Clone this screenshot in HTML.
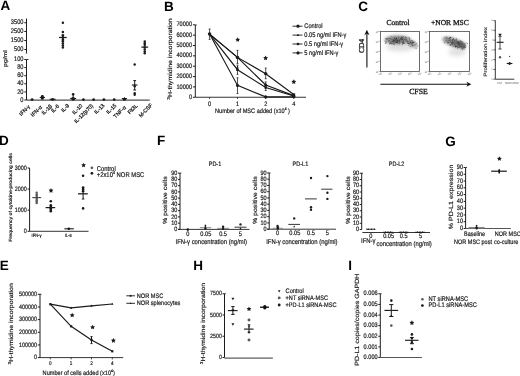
<!DOCTYPE html>
<html><head><meta charset="utf-8"><title>Figure</title>
<style>html,body{margin:0;padding:0;background:#fff;width:520px;height:376px;overflow:hidden}svg{display:block;transform:translateZ(0);will-change:transform;text-rendering:geometricPrecision}</style>
</head><body>
<svg width="520" height="376" viewBox="0 0 520 376" font-family='"Liberation Sans", sans-serif' fill="#1a1a1a">
<defs><filter id="gb" x="0" y="0" width="100%" height="100%" filterUnits="userSpaceOnUse"><feGaussianBlur stdDeviation="0.35"/></filter></defs><g filter="url(#gb)"><rect width="520" height="376" fill="#fff"/><text x="0.6" y="10.3" font-size="13.5" font-weight="bold" fill="#000">A</text>
<line x1="26.5" y1="18.5" x2="26.5" y2="53" stroke="#1e1e1e" stroke-width="1"/>
<line x1="24.3" y1="22.75" x2="26.5" y2="22.75" stroke="#1e1e1e" stroke-width="1"/>
<text font-size="5.7" text-anchor="end" stroke="#1a1a1a" stroke-width="0.17" transform="translate(23.5 24.4) scale(1 1.17)">3500</text>
<line x1="24.3" y1="31.5" x2="26.5" y2="31.5" stroke="#1e1e1e" stroke-width="1"/>
<text font-size="5.7" text-anchor="end" stroke="#1a1a1a" stroke-width="0.17" transform="translate(23.5 33.15) scale(1 1.17)">2500</text>
<line x1="24.3" y1="40.5" x2="26.5" y2="40.5" stroke="#1e1e1e" stroke-width="1"/>
<text font-size="5.7" text-anchor="end" stroke="#1a1a1a" stroke-width="0.17" transform="translate(23.5 42.15) scale(1 1.17)">1500</text>
<line x1="24.3" y1="49.5" x2="26.5" y2="49.5" stroke="#1e1e1e" stroke-width="1"/>
<text font-size="5.7" text-anchor="end" stroke="#1a1a1a" stroke-width="0.17" transform="translate(23.5 51.15) scale(1 1.17)">500</text>
<polygon points="25.6,53.6 27.4,53.6 26.5,51.6" fill="#333"/>
<line x1="26.5" y1="59.5" x2="26.5" y2="100" stroke="#1e1e1e" stroke-width="1"/>
<line x1="24.3" y1="59.5" x2="26.5" y2="59.5" stroke="#1e1e1e" stroke-width="1"/>
<text font-size="5.7" text-anchor="end" stroke="#1a1a1a" stroke-width="0.17" transform="translate(23.5 61.15) scale(1 1.17)">100</text>
<line x1="24.3" y1="67.6" x2="26.5" y2="67.6" stroke="#1e1e1e" stroke-width="1"/>
<text font-size="5.7" text-anchor="end" stroke="#1a1a1a" stroke-width="0.17" transform="translate(23.5 69.25) scale(1 1.17)">80</text>
<line x1="24.3" y1="75.7" x2="26.5" y2="75.7" stroke="#1e1e1e" stroke-width="1"/>
<text font-size="5.7" text-anchor="end" stroke="#1a1a1a" stroke-width="0.17" transform="translate(23.5 77.35) scale(1 1.17)">60</text>
<line x1="24.3" y1="83.8" x2="26.5" y2="83.8" stroke="#1e1e1e" stroke-width="1"/>
<text font-size="5.7" text-anchor="end" stroke="#1a1a1a" stroke-width="0.17" transform="translate(23.5 85.45) scale(1 1.17)">40</text>
<line x1="24.3" y1="91.9" x2="26.5" y2="91.9" stroke="#1e1e1e" stroke-width="1"/>
<text font-size="5.7" text-anchor="end" stroke="#1a1a1a" stroke-width="0.17" transform="translate(23.5 93.55) scale(1 1.17)">20</text>
<line x1="24.3" y1="100" x2="26.5" y2="100" stroke="#1e1e1e" stroke-width="1"/>
<text font-size="5.7" text-anchor="end" stroke="#1a1a1a" stroke-width="0.17" transform="translate(23.5 101.65) scale(1 1.17)">0</text>
<line x1="26.5" y1="59.5" x2="28.5" y2="59.5" stroke="#1e1e1e" stroke-width="0.9"/>
<text font-size="5.44" text-anchor="middle" stroke="#1a1a1a" stroke-width="0.17" transform="translate(6.9 58.6) scale(1 1.25) rotate(-90)">pg/ml</text>
<line x1="26.5" y1="100.1" x2="149.75" y2="100.1" stroke="#222" stroke-width="1"/>
<text font-size="5.3" text-anchor="end" stroke="#1a1a1a" stroke-width="0.26" transform="translate(30.5 107) rotate(-45)">IFN-&#947;</text>
<text font-size="5.3" text-anchor="end" stroke="#1a1a1a" stroke-width="0.26" transform="translate(42.3 107.6) rotate(-45)">IFN-&#945;</text>
<text font-size="5.3" text-anchor="end" stroke="#1a1a1a" stroke-width="0.26" transform="translate(52.4 106.5) rotate(-45)">IL-1&#946;</text>
<text font-size="5.3" text-anchor="end" stroke="#1a1a1a" stroke-width="0.26" transform="translate(59.6 106.5) rotate(-45)">IL-6</text>
<text font-size="5.3" text-anchor="end" stroke="#1a1a1a" stroke-width="0.26" transform="translate(69.6 106) rotate(-45)">IL-9</text>
<text font-size="5.3" text-anchor="end" stroke="#1a1a1a" stroke-width="0.26" transform="translate(82.9 106.2) rotate(-45)">IL-10</text>
<text font-size="5.3" text-anchor="end" stroke="#1a1a1a" stroke-width="0.26" transform="translate(93.6 106.2) rotate(-45)">IL-12(p70)</text>
<text font-size="5.3" text-anchor="end" stroke="#1a1a1a" stroke-width="0.26" transform="translate(104.8 105.8) rotate(-45)">IL-13</text>
<text font-size="5.3" text-anchor="end" stroke="#1a1a1a" stroke-width="0.26" transform="translate(116.8 105.8) rotate(-45)">IL-15</text>
<text font-size="5.3" text-anchor="end" stroke="#1a1a1a" stroke-width="0.26" transform="translate(126.3 107.8) rotate(-45)">TNF-&#945;</text>
<text font-size="5.3" text-anchor="end" stroke="#1a1a1a" stroke-width="0.26" transform="translate(138 106.2) rotate(-45)">Flt3L</text>
<text font-size="5.3" text-anchor="end" stroke="#1a1a1a" stroke-width="0.26" transform="translate(152.8 105.8) rotate(-45)">M-CSF</text>
<circle cx="32.1" cy="99.6" r="1.42" fill="#1a1a1a"/>
<line x1="42.36" y1="95.2" x2="42.36" y2="99.4" stroke="#1a1a1a" stroke-width="1"/>
<line x1="39.76" y1="97.5" x2="44.96" y2="97.5" stroke="#1a1a1a" stroke-width="1.12"/>
<circle cx="42.36" cy="96.3" r="1.42" fill="#1a1a1a"/>
<circle cx="42.36" cy="98.4" r="1.42" fill="#1a1a1a"/>
<circle cx="52.62" cy="99.4" r="1.42" fill="#1a1a1a"/>
<line x1="49.62" y1="99.3" x2="55.62" y2="99.3" stroke="#1a1a1a" stroke-width="1.12"/>
<circle cx="62.88" cy="22.75" r="1.24" fill="#1a1a1a"/>
<circle cx="62.88" cy="31.9" r="1.24" fill="#1a1a1a"/>
<circle cx="62.88" cy="35.5" r="1.24" fill="#1a1a1a"/>
<circle cx="62.88" cy="37.5" r="1.24" fill="#1a1a1a"/>
<circle cx="62.88" cy="39.5" r="1.24" fill="#1a1a1a"/>
<circle cx="62.88" cy="41.5" r="1.24" fill="#1a1a1a"/>
<circle cx="62.88" cy="43.5" r="1.24" fill="#1a1a1a"/>
<circle cx="62.88" cy="45.5" r="1.24" fill="#1a1a1a"/>
<circle cx="62.88" cy="47.5" r="1.24" fill="#1a1a1a"/>
<line x1="59.08" y1="37.5" x2="66.68" y2="37.5" stroke="#1a1a1a" stroke-width="1.25"/>
<line x1="62.88" y1="35" x2="62.88" y2="41" stroke="#1a1a1a" stroke-width="1"/>
<line x1="61.58" y1="35" x2="64.18" y2="35" stroke="#1a1a1a" stroke-width="1"/>
<line x1="61.58" y1="41" x2="64.18" y2="41" stroke="#1a1a1a" stroke-width="1"/>
<circle cx="73.14" cy="94.3" r="1.3" fill="#1a1a1a"/>
<line x1="73.14" y1="95" x2="73.14" y2="99.5" stroke="#1a1a1a" stroke-width="1"/>
<circle cx="73.14" cy="98.8" r="1.89" fill="#1a1a1a"/>
<line x1="70.14" y1="98.5" x2="76.14" y2="98.5" stroke="#1a1a1a" stroke-width="1.12"/>
<circle cx="83.4" cy="99.6" r="1.36" fill="#1a1a1a"/>
<circle cx="93.66" cy="99.6" r="1.36" fill="#1a1a1a"/>
<circle cx="103.92" cy="99.6" r="1.36" fill="#1a1a1a"/>
<circle cx="114.18" cy="99.6" r="1.36" fill="#1a1a1a"/>
<circle cx="124.44" cy="99.3" r="1.53" fill="#1a1a1a"/>
<line x1="124.44" y1="97.2" x2="124.44" y2="99.6" stroke="#1a1a1a" stroke-width="1"/>
<line x1="121.84" y1="98.6" x2="127.04" y2="98.6" stroke="#1a1a1a" stroke-width="1.12"/>
<circle cx="134.7" cy="64.4" r="1.24" fill="#1a1a1a"/>
<line x1="134.7" y1="80.6" x2="134.7" y2="90" stroke="#1a1a1a" stroke-width="1"/>
<line x1="133.3" y1="80.6" x2="136.1" y2="80.6" stroke="#1a1a1a" stroke-width="1"/>
<line x1="133.3" y1="90" x2="136.1" y2="90" stroke="#1a1a1a" stroke-width="1"/>
<line x1="131.9" y1="85" x2="137.5" y2="85" stroke="#1a1a1a" stroke-width="1.12"/>
<circle cx="134.7" cy="86.3" r="1.18" fill="#1a1a1a"/>
<circle cx="134.7" cy="93.2" r="1.18" fill="#1a1a1a"/>
<circle cx="134.7" cy="94.8" r="1.18" fill="#1a1a1a"/>
<circle cx="144.76" cy="41.5" r="1.24" fill="#1a1a1a"/>
<circle cx="144.76" cy="43.3" r="1.24" fill="#1a1a1a"/>
<circle cx="144.76" cy="45" r="1.24" fill="#1a1a1a"/>
<circle cx="144.76" cy="47.5" r="1.24" fill="#1a1a1a"/>
<circle cx="144.76" cy="49.5" r="1.24" fill="#1a1a1a"/>
<circle cx="144.76" cy="51.5" r="1.24" fill="#1a1a1a"/>
<circle cx="144.76" cy="53.3" r="1.24" fill="#1a1a1a"/>
<line x1="141.36" y1="47.1" x2="148.16" y2="47.1" stroke="#1a1a1a" stroke-width="1.25"/>
<text x="164" y="10.7" font-size="13.5" font-weight="bold" fill="#000">B</text>
<line x1="195.3" y1="25" x2="195.3" y2="97.25" stroke="#1e1e1e" stroke-width="1"/>
<line x1="192.9" y1="97.25" x2="195.3" y2="97.25" stroke="#1e1e1e" stroke-width="1"/>
<text font-size="5.6" text-anchor="end" stroke="#1a1a1a" stroke-width="0.17" transform="translate(192 98.87) scale(1 1.17)">0</text>
<line x1="192.9" y1="86.9" x2="195.3" y2="86.9" stroke="#1e1e1e" stroke-width="1"/>
<text font-size="5.6" text-anchor="end" stroke="#1a1a1a" stroke-width="0.17" transform="translate(192 88.52) scale(1 1.17)">10000</text>
<line x1="192.9" y1="76.55" x2="195.3" y2="76.55" stroke="#1e1e1e" stroke-width="1"/>
<text font-size="5.6" text-anchor="end" stroke="#1a1a1a" stroke-width="0.17" transform="translate(192 78.17) scale(1 1.17)">20000</text>
<line x1="192.9" y1="66.2" x2="195.3" y2="66.2" stroke="#1e1e1e" stroke-width="1"/>
<text font-size="5.6" text-anchor="end" stroke="#1a1a1a" stroke-width="0.17" transform="translate(192 67.82) scale(1 1.17)">30000</text>
<line x1="192.9" y1="55.85" x2="195.3" y2="55.85" stroke="#1e1e1e" stroke-width="1"/>
<text font-size="5.6" text-anchor="end" stroke="#1a1a1a" stroke-width="0.17" transform="translate(192 57.47) scale(1 1.17)">40000</text>
<line x1="192.9" y1="45.5" x2="195.3" y2="45.5" stroke="#1e1e1e" stroke-width="1"/>
<text font-size="5.6" text-anchor="end" stroke="#1a1a1a" stroke-width="0.17" transform="translate(192 47.12) scale(1 1.17)">50000</text>
<line x1="192.9" y1="35.15" x2="195.3" y2="35.15" stroke="#1e1e1e" stroke-width="1"/>
<text font-size="5.6" text-anchor="end" stroke="#1a1a1a" stroke-width="0.17" transform="translate(192 36.77) scale(1 1.17)">60000</text>
<line x1="192.9" y1="24.8" x2="195.3" y2="24.8" stroke="#1e1e1e" stroke-width="1"/>
<text font-size="5.6" text-anchor="end" stroke="#1a1a1a" stroke-width="0.17" transform="translate(192 26.42) scale(1 1.17)">70000</text>
<line x1="195.3" y1="25" x2="196.8" y2="25" stroke="#1e1e1e" stroke-width="0.9"/>
<line x1="195.3" y1="97.25" x2="306" y2="97.25" stroke="#1e1e1e" stroke-width="0.9"/>
<line x1="209.6" y1="97.25" x2="209.6" y2="99.05" stroke="#1e1e1e" stroke-width="0.8"/>
<text font-size="5.6" text-anchor="middle" stroke="#1a1a1a" stroke-width="0.17" transform="translate(209.6 105.55) scale(1 1.17)">0</text>
<line x1="237.5" y1="97.25" x2="237.5" y2="99.05" stroke="#1e1e1e" stroke-width="0.8"/>
<text font-size="5.6" text-anchor="middle" stroke="#1a1a1a" stroke-width="0.17" transform="translate(237.5 105.55) scale(1 1.17)">1</text>
<line x1="265.7" y1="97.25" x2="265.7" y2="99.05" stroke="#1e1e1e" stroke-width="0.8"/>
<text font-size="5.6" text-anchor="middle" stroke="#1a1a1a" stroke-width="0.17" transform="translate(265.7 105.55) scale(1 1.17)">2</text>
<line x1="293.75" y1="97.25" x2="293.75" y2="99.05" stroke="#1e1e1e" stroke-width="0.8"/>
<text font-size="5.6" text-anchor="middle" stroke="#1a1a1a" stroke-width="0.17" transform="translate(293.75 105.55) scale(1 1.17)">4</text>
<text font-size="5.6" text-anchor="middle" stroke="#1a1a1a" stroke-width="0.17" transform="translate(252.5 112.5) scale(1 1.17)">Number of MSC added (x10<tspan font-size="3.4" dy="-2">4</tspan><tspan dy="2"> )</tspan></text>
<text font-size="5.9" text-anchor="middle" stroke="#1a1a1a" stroke-width="0.17" transform="translate(172.4 59) scale(1 1.17) rotate(-90)"><tspan font-size="4.2" dy="-2">3</tspan><tspan dy="2">H-thymidine incorporation</tspan></text>
<polyline points="209.6,34.1 237.5,57.4 265.7,73.7 293.75,94.5" fill="none" stroke="#1a1a1a" stroke-width="1.15"/>
<polyline points="209.6,34.1 237.5,57.4 265.7,85 293.75,95.6" fill="none" stroke="#1a1a1a" stroke-width="1.15"/>
<polyline points="209.6,34.1 237.5,69.7 265.7,87.5 293.75,96" fill="none" stroke="#1a1a1a" stroke-width="1.15"/>
<polyline points="209.6,34.1 237.5,85.4 265.7,96.9 293.75,96.9" fill="none" stroke="#1a1a1a" stroke-width="1.15"/>
<line x1="209.6" y1="29" x2="209.6" y2="39.4" stroke="#1a1a1a" stroke-width="0.75"/>
<line x1="208.65" y1="29" x2="210.55" y2="29" stroke="#1a1a1a" stroke-width="0.75"/>
<line x1="208.65" y1="39.4" x2="210.55" y2="39.4" stroke="#1a1a1a" stroke-width="0.75"/>
<line x1="237.5" y1="50.4" x2="237.5" y2="63.6" stroke="#1a1a1a" stroke-width="0.75"/>
<line x1="236.55" y1="50.4" x2="238.45" y2="50.4" stroke="#1a1a1a" stroke-width="0.75"/>
<line x1="236.55" y1="63.6" x2="238.45" y2="63.6" stroke="#1a1a1a" stroke-width="0.75"/>
<line x1="237.5" y1="65.2" x2="237.5" y2="74.4" stroke="#1a1a1a" stroke-width="0.75"/>
<line x1="236.55" y1="65.2" x2="238.45" y2="65.2" stroke="#1a1a1a" stroke-width="0.75"/>
<line x1="236.55" y1="74.4" x2="238.45" y2="74.4" stroke="#1a1a1a" stroke-width="0.75"/>
<line x1="237.5" y1="77.8" x2="237.5" y2="93.5" stroke="#1a1a1a" stroke-width="0.75"/>
<line x1="236.55" y1="77.8" x2="238.45" y2="77.8" stroke="#1a1a1a" stroke-width="0.75"/>
<line x1="236.55" y1="93.5" x2="238.45" y2="93.5" stroke="#1a1a1a" stroke-width="0.75"/>
<line x1="265.7" y1="68.1" x2="265.7" y2="78.7" stroke="#1a1a1a" stroke-width="0.75"/>
<line x1="264.75" y1="68.1" x2="266.65" y2="68.1" stroke="#1a1a1a" stroke-width="0.75"/>
<line x1="264.75" y1="78.7" x2="266.65" y2="78.7" stroke="#1a1a1a" stroke-width="0.75"/>
<line x1="265.7" y1="81.9" x2="265.7" y2="90.5" stroke="#1a1a1a" stroke-width="0.75"/>
<line x1="264.75" y1="81.9" x2="266.65" y2="81.9" stroke="#1a1a1a" stroke-width="0.75"/>
<line x1="264.75" y1="90.5" x2="266.65" y2="90.5" stroke="#1a1a1a" stroke-width="0.75"/>
<circle cx="209.6" cy="34.1" r="1.77" fill="#1a1a1a"/>
<circle cx="237.5" cy="57.4" r="1.77" fill="#1a1a1a"/>
<rect x="236.2" y="68.4" width="2.6" height="2.6" fill="#1a1a1a"/>
<circle cx="237.5" cy="85.4" r="1.53" fill="#1a1a1a"/>
<polygon points="237.5,65.75 236.3,67.84 238.7,67.84" fill="#1a1a1a"/>
<circle cx="265.7" cy="73.7" r="1.65" fill="#1a1a1a"/>
<circle cx="265.7" cy="85" r="1.53" fill="#1a1a1a"/>
<rect x="264.5" y="86.3" width="2.4" height="2.4" fill="#1a1a1a"/>
<circle cx="265.7" cy="96.9" r="1.53" fill="#1a1a1a"/>
<rect x="292.35" y="93.4" width="2.8" height="2.8" fill="#1a1a1a"/>
<circle cx="293.75" cy="96.6" r="1.77" fill="#1a1a1a"/>
<polygon points="237.7,37.15 238.45,38.67 240.13,38.91 238.91,40.09 239.2,41.76 237.7,40.98 236.2,41.76 236.49,40.09 235.27,38.91 236.95,38.67" fill="#1a1a1a"/>
<polygon points="265.6,55.55 266.35,57.07 268.03,57.31 266.81,58.49 267.1,60.16 265.6,59.38 264.1,60.16 264.39,58.49 263.17,57.31 264.85,57.07" fill="#1a1a1a"/>
<polygon points="293.8,79.35 294.55,80.87 296.23,81.11 295.01,82.29 295.3,83.96 293.8,83.18 292.3,83.96 292.59,82.29 291.37,81.11 293.05,80.87" fill="#1a1a1a"/>
<line x1="292.5" y1="26.2" x2="302.5" y2="26.2" stroke="#1a1a1a" stroke-width="0.9"/>
<circle cx="298" cy="26.2" r="1.59" fill="#1a1a1a"/>
<text font-size="5.7" stroke="#1a1a1a" stroke-width="0.17" transform="translate(304.3 28.2) scale(1 1.17)">Control</text>
<line x1="292.5" y1="35.1" x2="302.5" y2="35.1" stroke="#1a1a1a" stroke-width="0.9"/>
<polygon points="298,33.74 296.7,36 299.3,36" fill="#1a1a1a"/>
<text font-size="5.7" stroke="#1a1a1a" stroke-width="0.17" transform="translate(304.3 37.1) scale(1 1.17)">0.05 ng/ml IFN-&#947;</text>
<line x1="292.5" y1="44" x2="302.5" y2="44" stroke="#1a1a1a" stroke-width="0.9"/>
<rect x="296.85" y="42.85" width="2.3" height="2.3" fill="#1a1a1a"/>
<text font-size="5.7" stroke="#1a1a1a" stroke-width="0.17" transform="translate(304.3 46) scale(1 1.17)">0.5 ng/ml IFN-&#947;</text>
<line x1="292.5" y1="52.9" x2="302.5" y2="52.9" stroke="#1a1a1a" stroke-width="0.9"/>
<circle cx="298" cy="52.9" r="1.59" fill="#1a1a1a"/>
<text font-size="5.7" stroke="#1a1a1a" stroke-width="0.17" transform="translate(304.3 54.9) scale(1 1.17)">5 ng/ml IFN-&#947;</text>
<text x="358.3" y="11.2" font-size="13.5" font-weight="bold" fill="#000">C</text>
<line x1="366.9" y1="33" x2="366.9" y2="67.5" stroke="#111" stroke-width="1.1"/>
<polygon points="366.9,29.8 364.3,35.3 366.9,33.6 369.5,35.3" fill="#111"/>
<text font-size="7.5" text-anchor="middle" font-family='"Liberation Serif", serif' stroke="#1a1a1a" stroke-width="0.32" transform="translate(363.9 46) rotate(-90)">CD4</text>
<text x="398" y="25.2" font-size="7.6" text-anchor="middle" font-family='"Liberation Serif", serif' stroke="#1a1a1a" stroke-width="0.32">Control</text>
<text x="449.9" y="25.2" font-size="7.5" text-anchor="middle" font-family='"Liberation Serif", serif' stroke="#1a1a1a" stroke-width="0.32">+NOR MSC</text>
<line x1="380.4" y1="84.2" x2="468.5" y2="84.2" stroke="#111" stroke-width="1.1"/>
<polygon points="471.3,84.2 466.4,81.7 467.8,84.2 466.4,86.7" fill="#111"/>
<text x="418.5" y="93.6" font-size="7.8" text-anchor="middle" font-family='"Liberation Serif", serif' stroke="#1a1a1a" stroke-width="0.32">CFSE</text>
<defs><filter id="bl" x="-50%" y="-50%" width="200%" height="200%"><feGaussianBlur stdDeviation="1.4"/></filter><filter id="bl2" x="-50%" y="-50%" width="200%" height="200%"><feGaussianBlur stdDeviation="2.2"/></filter></defs>
<g filter="url(#bl2)" opacity="0.45"><ellipse cx="400" cy="47" rx="14" ry="4.5" fill="#bbb"/></g>
<g filter="url(#bl)"><ellipse cx="397.5" cy="39.9" rx="13" ry="4.3" fill="#8a8a8a"/><ellipse cx="412" cy="43.6" rx="6.5" ry="3" fill="#a0a0a0" transform="rotate(30 412 43.6)"/></g>
<g filter="url(#bl2)" opacity="0.45"><ellipse cx="457" cy="52" rx="9" ry="4" fill="#bbb"/></g>
<g filter="url(#bl)"><ellipse cx="454" cy="42.6" rx="12.5" ry="4.3" fill="#909090" transform="rotate(20 454 42.6)"/><ellipse cx="460" cy="44.6" rx="6" ry="3.2" fill="#707070" transform="rotate(20 460 44.6)"/></g>
<rect x="380.5" y="31.5" width="39" height="40" fill="none" stroke="#4a4a4a" stroke-width="0.8"/>
<line x1="379.2" y1="31.5" x2="380.5" y2="31.5" stroke="#777" stroke-width="0.5"/>
<line x1="380.5" y1="71.5" x2="380.5" y2="72.8" stroke="#777" stroke-width="0.5"/>
<text x="379.3" y="33.1" font-size="2.6" fill="#666" text-anchor="end">10<tspan font-size="1.8" dy="-1">4</tspan></text>
<text x="380.5" y="75.1" font-size="2.6" fill="#666" text-anchor="middle">10<tspan font-size="1.8" dy="-1">0</tspan></text>
<line x1="379.2" y1="41.5" x2="380.5" y2="41.5" stroke="#777" stroke-width="0.5"/>
<line x1="390.25" y1="71.5" x2="390.25" y2="72.8" stroke="#777" stroke-width="0.5"/>
<text x="379.3" y="43.1" font-size="2.6" fill="#666" text-anchor="end">10<tspan font-size="1.8" dy="-1">3</tspan></text>
<text x="390.25" y="75.1" font-size="2.6" fill="#666" text-anchor="middle">10<tspan font-size="1.8" dy="-1">1</tspan></text>
<line x1="379.2" y1="51.5" x2="380.5" y2="51.5" stroke="#777" stroke-width="0.5"/>
<line x1="400" y1="71.5" x2="400" y2="72.8" stroke="#777" stroke-width="0.5"/>
<text x="379.3" y="53.1" font-size="2.6" fill="#666" text-anchor="end">10<tspan font-size="1.8" dy="-1">2</tspan></text>
<text x="400" y="75.1" font-size="2.6" fill="#666" text-anchor="middle">10<tspan font-size="1.8" dy="-1">2</tspan></text>
<line x1="379.2" y1="61.5" x2="380.5" y2="61.5" stroke="#777" stroke-width="0.5"/>
<line x1="409.75" y1="71.5" x2="409.75" y2="72.8" stroke="#777" stroke-width="0.5"/>
<text x="379.3" y="63.1" font-size="2.6" fill="#666" text-anchor="end">10<tspan font-size="1.8" dy="-1">1</tspan></text>
<text x="409.75" y="75.1" font-size="2.6" fill="#666" text-anchor="middle">10<tspan font-size="1.8" dy="-1">3</tspan></text>
<line x1="379.2" y1="71.5" x2="380.5" y2="71.5" stroke="#777" stroke-width="0.5"/>
<line x1="419.5" y1="71.5" x2="419.5" y2="72.8" stroke="#777" stroke-width="0.5"/>
<text x="379.3" y="73.1" font-size="2.6" fill="#666" text-anchor="end">10<tspan font-size="1.8" dy="-1">0</tspan></text>
<text x="419.5" y="75.1" font-size="2.6" fill="#666" text-anchor="middle">10<tspan font-size="1.8" dy="-1">4</tspan></text>
<rect x="400.43" y="38.59" width="0.8" height="0.8" fill="rgb(49,49,49)"/>
<rect x="395.88" y="37.91" width="0.8" height="0.8" fill="rgb(51,51,51)"/>
<rect x="399.08" y="39.09" width="0.8" height="0.8" fill="rgb(83,83,83)"/>
<rect x="392.82" y="37.47" width="0.8" height="0.8" fill="rgb(135,135,135)"/>
<rect x="400.87" y="39.35" width="0.8" height="0.8" fill="rgb(109,109,109)"/>
<rect x="396.1" y="39.96" width="0.8" height="0.8" fill="rgb(137,137,137)"/>
<rect x="401.32" y="38.74" width="0.8" height="0.8" fill="rgb(129,129,129)"/>
<rect x="395.61" y="39.34" width="0.8" height="0.8" fill="rgb(110,110,110)"/>
<rect x="391.29" y="39.23" width="0.8" height="0.8" fill="rgb(133,133,133)"/>
<rect x="401.56" y="40.11" width="0.8" height="0.8" fill="rgb(69,69,69)"/>
<rect x="390.78" y="36.06" width="0.8" height="0.8" fill="rgb(105,105,105)"/>
<rect x="402.4" y="38.88" width="0.8" height="0.8" fill="rgb(82,82,82)"/>
<rect x="397.68" y="39.78" width="0.8" height="0.8" fill="rgb(50,50,50)"/>
<rect x="402.73" y="40.35" width="0.8" height="0.8" fill="rgb(87,87,87)"/>
<rect x="396.06" y="37.77" width="0.8" height="0.8" fill="rgb(69,69,69)"/>
<rect x="401.58" y="39.41" width="0.8" height="0.8" fill="rgb(96,96,96)"/>
<rect x="402.33" y="41.03" width="0.8" height="0.8" fill="rgb(114,114,114)"/>
<rect x="397.93" y="37.68" width="0.8" height="0.8" fill="rgb(132,132,132)"/>
<rect x="402.47" y="42.56" width="0.8" height="0.8" fill="rgb(102,102,102)"/>
<rect x="394.01" y="40.65" width="0.8" height="0.8" fill="rgb(45,45,45)"/>
<rect x="408.63" y="37.16" width="0.8" height="0.8" fill="rgb(59,59,59)"/>
<rect x="390.16" y="43.13" width="0.8" height="0.8" fill="rgb(52,52,52)"/>
<rect x="394.89" y="35.95" width="0.8" height="0.8" fill="rgb(124,124,124)"/>
<rect x="402.77" y="41.63" width="0.8" height="0.8" fill="rgb(61,61,61)"/>
<rect x="399.94" y="38.43" width="0.8" height="0.8" fill="rgb(45,45,45)"/>
<rect x="391.9" y="43.05" width="0.8" height="0.8" fill="rgb(98,98,98)"/>
<rect x="393.33" y="39.16" width="0.8" height="0.8" fill="rgb(92,92,92)"/>
<rect x="401.53" y="37.03" width="0.8" height="0.8" fill="rgb(89,89,89)"/>
<rect x="397.47" y="42.69" width="0.8" height="0.8" fill="rgb(93,93,93)"/>
<rect x="399.01" y="39.17" width="0.8" height="0.8" fill="rgb(41,41,41)"/>
<rect x="395.8" y="41.78" width="0.8" height="0.8" fill="rgb(114,114,114)"/>
<rect x="398.44" y="39.65" width="0.8" height="0.8" fill="rgb(130,130,130)"/>
<rect x="407.99" y="43.34" width="0.8" height="0.8" fill="rgb(49,49,49)"/>
<rect x="395.12" y="38.5" width="0.8" height="0.8" fill="rgb(96,96,96)"/>
<rect x="404.97" y="36.91" width="0.8" height="0.8" fill="rgb(121,121,121)"/>
<rect x="391.89" y="40" width="0.8" height="0.8" fill="rgb(88,88,88)"/>
<rect x="402.87" y="40.26" width="0.8" height="0.8" fill="rgb(101,101,101)"/>
<rect x="402.7" y="43.05" width="0.8" height="0.8" fill="rgb(84,84,84)"/>
<rect x="396.15" y="38.03" width="0.8" height="0.8" fill="rgb(48,48,48)"/>
<rect x="402.1" y="39.2" width="0.8" height="0.8" fill="rgb(80,80,80)"/>
<rect x="400.89" y="38.29" width="0.8" height="0.8" fill="rgb(59,59,59)"/>
<rect x="395.78" y="38.62" width="0.8" height="0.8" fill="rgb(73,73,73)"/>
<rect x="388.15" y="41.11" width="0.8" height="0.8" fill="rgb(133,133,133)"/>
<rect x="397.56" y="40.66" width="0.8" height="0.8" fill="rgb(106,106,106)"/>
<rect x="398.47" y="36.39" width="0.8" height="0.8" fill="rgb(93,93,93)"/>
<rect x="398.28" y="38.1" width="0.8" height="0.8" fill="rgb(98,98,98)"/>
<rect x="391.77" y="39.13" width="0.8" height="0.8" fill="rgb(133,133,133)"/>
<rect x="394.65" y="39.55" width="0.8" height="0.8" fill="rgb(46,46,46)"/>
<rect x="402.01" y="43.8" width="0.8" height="0.8" fill="rgb(63,63,63)"/>
<rect x="403.5" y="38.79" width="0.8" height="0.8" fill="rgb(66,66,66)"/>
<rect x="403.36" y="42.39" width="0.8" height="0.8" fill="rgb(77,77,77)"/>
<rect x="398.59" y="43.6" width="0.8" height="0.8" fill="rgb(118,118,118)"/>
<rect x="396.51" y="41.74" width="0.8" height="0.8" fill="rgb(84,84,84)"/>
<rect x="394.82" y="40.28" width="0.8" height="0.8" fill="rgb(108,108,108)"/>
<rect x="393.39" y="40.77" width="0.8" height="0.8" fill="rgb(127,127,127)"/>
<rect x="408.81" y="38.38" width="0.8" height="0.8" fill="rgb(96,96,96)"/>
<rect x="392.99" y="37.69" width="0.8" height="0.8" fill="rgb(106,106,106)"/>
<rect x="389.17" y="40.24" width="0.8" height="0.8" fill="rgb(88,88,88)"/>
<rect x="398.65" y="41.34" width="0.8" height="0.8" fill="rgb(125,125,125)"/>
<rect x="399.39" y="40.35" width="0.8" height="0.8" fill="rgb(79,79,79)"/>
<rect x="386.24" y="41.65" width="0.8" height="0.8" fill="rgb(47,47,47)"/>
<rect x="402.07" y="39.87" width="0.8" height="0.8" fill="rgb(136,136,136)"/>
<rect x="397.03" y="38.01" width="0.8" height="0.8" fill="rgb(129,129,129)"/>
<rect x="393.58" y="39.48" width="0.8" height="0.8" fill="rgb(78,78,78)"/>
<rect x="396.56" y="39.47" width="0.8" height="0.8" fill="rgb(88,88,88)"/>
<rect x="396.4" y="37.14" width="0.8" height="0.8" fill="rgb(83,83,83)"/>
<rect x="398.51" y="39.61" width="0.8" height="0.8" fill="rgb(61,61,61)"/>
<rect x="401.22" y="38.84" width="0.8" height="0.8" fill="rgb(101,101,101)"/>
<rect x="395.63" y="39.56" width="0.8" height="0.8" fill="rgb(53,53,53)"/>
<rect x="388.88" y="41.32" width="0.8" height="0.8" fill="rgb(111,111,111)"/>
<rect x="389.48" y="38.38" width="0.8" height="0.8" fill="rgb(103,103,103)"/>
<rect x="393.54" y="43.91" width="0.8" height="0.8" fill="rgb(105,105,105)"/>
<rect x="390.43" y="38.09" width="0.8" height="0.8" fill="rgb(91,91,91)"/>
<rect x="398.39" y="41.08" width="0.8" height="0.8" fill="rgb(54,54,54)"/>
<rect x="393.78" y="41.61" width="0.8" height="0.8" fill="rgb(66,66,66)"/>
<rect x="401.85" y="37.19" width="0.8" height="0.8" fill="rgb(88,88,88)"/>
<rect x="396.65" y="39.98" width="0.8" height="0.8" fill="rgb(86,86,86)"/>
<rect x="392.39" y="41.2" width="0.8" height="0.8" fill="rgb(131,131,131)"/>
<rect x="402.77" y="42.68" width="0.8" height="0.8" fill="rgb(59,59,59)"/>
<rect x="397.7" y="41.82" width="0.8" height="0.8" fill="rgb(130,130,130)"/>
<rect x="396.8" y="41.57" width="0.8" height="0.8" fill="rgb(72,72,72)"/>
<rect x="399.14" y="39.08" width="0.8" height="0.8" fill="rgb(119,119,119)"/>
<rect x="396.85" y="39.59" width="0.8" height="0.8" fill="rgb(122,122,122)"/>
<rect x="384.64" y="40.74" width="0.8" height="0.8" fill="rgb(61,61,61)"/>
<rect x="391.81" y="43.32" width="0.8" height="0.8" fill="rgb(105,105,105)"/>
<rect x="393.66" y="40.37" width="0.8" height="0.8" fill="rgb(113,113,113)"/>
<rect x="393.54" y="44.1" width="0.8" height="0.8" fill="rgb(58,58,58)"/>
<rect x="410.41" y="39.71" width="0.8" height="0.8" fill="rgb(109,109,109)"/>
<rect x="393.49" y="40.34" width="0.8" height="0.8" fill="rgb(72,72,72)"/>
<rect x="388.07" y="40.74" width="0.8" height="0.8" fill="rgb(134,134,134)"/>
<rect x="385.63" y="38.33" width="0.8" height="0.8" fill="rgb(44,44,44)"/>
<rect x="394.18" y="42.05" width="0.8" height="0.8" fill="rgb(112,112,112)"/>
<rect x="397.73" y="37.3" width="0.8" height="0.8" fill="rgb(107,107,107)"/>
<rect x="397.32" y="41.93" width="0.8" height="0.8" fill="rgb(55,55,55)"/>
<rect x="401.33" y="38.88" width="0.8" height="0.8" fill="rgb(42,42,42)"/>
<rect x="394.2" y="39.15" width="0.8" height="0.8" fill="rgb(64,64,64)"/>
<rect x="386.49" y="38.79" width="0.8" height="0.8" fill="rgb(44,44,44)"/>
<rect x="390.79" y="41.44" width="0.8" height="0.8" fill="rgb(65,65,65)"/>
<rect x="393.07" y="41.69" width="0.8" height="0.8" fill="rgb(69,69,69)"/>
<rect x="392.7" y="42.44" width="0.8" height="0.8" fill="rgb(64,64,64)"/>
<rect x="393.18" y="43.32" width="0.8" height="0.8" fill="rgb(120,120,120)"/>
<rect x="389.23" y="43.46" width="0.8" height="0.8" fill="rgb(47,47,47)"/>
<rect x="398.92" y="43.23" width="0.8" height="0.8" fill="rgb(82,82,82)"/>
<rect x="396.94" y="40.14" width="0.8" height="0.8" fill="rgb(46,46,46)"/>
<rect x="391.85" y="41.3" width="0.8" height="0.8" fill="rgb(81,81,81)"/>
<rect x="391.1" y="41.59" width="0.8" height="0.8" fill="rgb(93,93,93)"/>
<rect x="399.52" y="40.2" width="0.8" height="0.8" fill="rgb(122,122,122)"/>
<rect x="392.9" y="39.69" width="0.8" height="0.8" fill="rgb(52,52,52)"/>
<rect x="391.27" y="43.43" width="0.8" height="0.8" fill="rgb(70,70,70)"/>
<rect x="392.59" y="37.1" width="0.8" height="0.8" fill="rgb(119,119,119)"/>
<rect x="398.75" y="37.17" width="0.8" height="0.8" fill="rgb(134,134,134)"/>
<rect x="399.32" y="41.63" width="0.8" height="0.8" fill="rgb(59,59,59)"/>
<rect x="409.67" y="40.84" width="0.8" height="0.8" fill="rgb(106,106,106)"/>
<rect x="393.87" y="39.34" width="0.8" height="0.8" fill="rgb(137,137,137)"/>
<rect x="395.62" y="42.38" width="0.8" height="0.8" fill="rgb(47,47,47)"/>
<rect x="406.93" y="41.77" width="0.8" height="0.8" fill="rgb(102,102,102)"/>
<rect x="403.02" y="40.27" width="0.8" height="0.8" fill="rgb(77,77,77)"/>
<rect x="395.53" y="38.82" width="0.8" height="0.8" fill="rgb(54,54,54)"/>
<rect x="390.9" y="43.03" width="0.8" height="0.8" fill="rgb(79,79,79)"/>
<rect x="394.05" y="36.84" width="0.8" height="0.8" fill="rgb(129,129,129)"/>
<rect x="407.6" y="40.96" width="0.8" height="0.8" fill="rgb(89,89,89)"/>
<rect x="407.51" y="43.19" width="0.8" height="0.8" fill="rgb(99,99,99)"/>
<rect x="403.02" y="42.56" width="0.8" height="0.8" fill="rgb(64,64,64)"/>
<rect x="398.52" y="41.15" width="0.8" height="0.8" fill="rgb(46,46,46)"/>
<rect x="392.04" y="43.35" width="0.8" height="0.8" fill="rgb(118,118,118)"/>
<rect x="402.44" y="42.16" width="0.8" height="0.8" fill="rgb(44,44,44)"/>
<rect x="400.67" y="41.62" width="0.8" height="0.8" fill="rgb(73,73,73)"/>
<rect x="393.72" y="39.57" width="0.8" height="0.8" fill="rgb(114,114,114)"/>
<rect x="406.44" y="40.13" width="0.8" height="0.8" fill="rgb(90,90,90)"/>
<rect x="398.9" y="42.29" width="0.8" height="0.8" fill="rgb(99,99,99)"/>
<rect x="388.2" y="40.19" width="0.8" height="0.8" fill="rgb(135,135,135)"/>
<rect x="393.39" y="40.1" width="0.8" height="0.8" fill="rgb(44,44,44)"/>
<rect x="390" y="41.74" width="0.8" height="0.8" fill="rgb(48,48,48)"/>
<rect x="401.32" y="36.27" width="0.8" height="0.8" fill="rgb(70,70,70)"/>
<rect x="402" y="38.97" width="0.8" height="0.8" fill="rgb(58,58,58)"/>
<rect x="394.39" y="40.97" width="0.8" height="0.8" fill="rgb(53,53,53)"/>
<rect x="397.29" y="42.33" width="0.8" height="0.8" fill="rgb(98,98,98)"/>
<rect x="394.2" y="38.7" width="0.8" height="0.8" fill="rgb(110,110,110)"/>
<rect x="404.44" y="42.86" width="0.8" height="0.8" fill="rgb(40,40,40)"/>
<rect x="396.4" y="41.86" width="0.8" height="0.8" fill="rgb(44,44,44)"/>
<rect x="403.31" y="41.57" width="0.8" height="0.8" fill="rgb(110,110,110)"/>
<rect x="396.92" y="39.63" width="0.8" height="0.8" fill="rgb(51,51,51)"/>
<rect x="398.98" y="39.88" width="0.8" height="0.8" fill="rgb(119,119,119)"/>
<rect x="403" y="36.3" width="0.8" height="0.8" fill="rgb(92,92,92)"/>
<rect x="398.47" y="37.03" width="0.8" height="0.8" fill="rgb(112,112,112)"/>
<rect x="404.89" y="36.71" width="0.8" height="0.8" fill="rgb(51,51,51)"/>
<rect x="401.72" y="39.83" width="0.8" height="0.8" fill="rgb(134,134,134)"/>
<rect x="395.43" y="39.65" width="0.8" height="0.8" fill="rgb(79,79,79)"/>
<rect x="403.29" y="40.78" width="0.8" height="0.8" fill="rgb(51,51,51)"/>
<rect x="407.12" y="41.46" width="0.8" height="0.8" fill="rgb(63,63,63)"/>
<rect x="406.77" y="41.52" width="0.8" height="0.8" fill="rgb(138,138,138)"/>
<rect x="403.52" y="40.07" width="0.8" height="0.8" fill="rgb(127,127,127)"/>
<rect x="398.15" y="41.11" width="0.8" height="0.8" fill="rgb(118,118,118)"/>
<rect x="409.27" y="40.31" width="0.8" height="0.8" fill="rgb(91,91,91)"/>
<rect x="399.66" y="38.89" width="0.8" height="0.8" fill="rgb(93,93,93)"/>
<rect x="397.45" y="40.52" width="0.8" height="0.8" fill="rgb(76,76,76)"/>
<rect x="394.66" y="39.99" width="0.8" height="0.8" fill="rgb(66,66,66)"/>
<rect x="402.21" y="37.18" width="0.8" height="0.8" fill="rgb(58,58,58)"/>
<rect x="397.22" y="41.16" width="0.8" height="0.8" fill="rgb(40,40,40)"/>
<rect x="394" y="37.91" width="0.8" height="0.8" fill="rgb(43,43,43)"/>
<rect x="407.6" y="40.64" width="0.8" height="0.8" fill="rgb(132,132,132)"/>
<rect x="400.61" y="37.73" width="0.8" height="0.8" fill="rgb(42,42,42)"/>
<rect x="395.62" y="40.58" width="0.8" height="0.8" fill="rgb(41,41,41)"/>
<rect x="388.99" y="42.49" width="0.8" height="0.8" fill="rgb(114,114,114)"/>
<rect x="395.66" y="40.82" width="0.8" height="0.8" fill="rgb(103,103,103)"/>
<rect x="402.99" y="36.5" width="0.8" height="0.8" fill="rgb(125,125,125)"/>
<rect x="394.23" y="42.81" width="0.8" height="0.8" fill="rgb(90,90,90)"/>
<rect x="394.77" y="39.58" width="0.8" height="0.8" fill="rgb(59,59,59)"/>
<rect x="391.46" y="39.04" width="0.8" height="0.8" fill="rgb(70,70,70)"/>
<rect x="385.49" y="42.89" width="0.8" height="0.8" fill="rgb(120,120,120)"/>
<rect x="397.35" y="42.58" width="0.8" height="0.8" fill="rgb(110,110,110)"/>
<rect x="388.15" y="37.7" width="0.8" height="0.8" fill="rgb(128,128,128)"/>
<rect x="409.58" y="42.15" width="0.8" height="0.8" fill="rgb(52,52,52)"/>
<rect x="404.93" y="38.81" width="0.8" height="0.8" fill="rgb(105,105,105)"/>
<rect x="401.76" y="37.86" width="0.8" height="0.8" fill="rgb(67,67,67)"/>
<rect x="403.04" y="40.97" width="0.8" height="0.8" fill="rgb(81,81,81)"/>
<rect x="393.29" y="41.08" width="0.8" height="0.8" fill="rgb(73,73,73)"/>
<rect x="394.52" y="40.77" width="0.8" height="0.8" fill="rgb(122,122,122)"/>
<rect x="405.05" y="38.1" width="0.8" height="0.8" fill="rgb(121,121,121)"/>
<rect x="406.37" y="37.39" width="0.8" height="0.8" fill="rgb(86,86,86)"/>
<rect x="395.91" y="41.66" width="0.8" height="0.8" fill="rgb(44,44,44)"/>
<rect x="402.94" y="41.79" width="0.8" height="0.8" fill="rgb(87,87,87)"/>
<rect x="399.58" y="39.93" width="0.8" height="0.8" fill="rgb(82,82,82)"/>
<rect x="406.13" y="39.28" width="0.8" height="0.8" fill="rgb(52,52,52)"/>
<rect x="386.76" y="38.26" width="0.8" height="0.8" fill="rgb(48,48,48)"/>
<rect x="395.32" y="41.63" width="0.8" height="0.8" fill="rgb(70,70,70)"/>
<rect x="405.61" y="40.57" width="0.8" height="0.8" fill="rgb(41,41,41)"/>
<rect x="388.18" y="40.46" width="0.8" height="0.8" fill="rgb(99,99,99)"/>
<rect x="385.14" y="42.64" width="0.8" height="0.8" fill="rgb(47,47,47)"/>
<rect x="399.87" y="41.03" width="0.8" height="0.8" fill="rgb(114,114,114)"/>
<rect x="406.12" y="37.84" width="0.8" height="0.8" fill="rgb(127,127,127)"/>
<rect x="396.4" y="39.55" width="0.8" height="0.8" fill="rgb(77,77,77)"/>
<rect x="402.8" y="38.44" width="0.8" height="0.8" fill="rgb(90,90,90)"/>
<rect x="396.55" y="41.9" width="0.8" height="0.8" fill="rgb(41,41,41)"/>
<rect x="391.93" y="41.12" width="0.8" height="0.8" fill="rgb(50,50,50)"/>
<rect x="395.26" y="43.05" width="0.8" height="0.8" fill="rgb(130,130,130)"/>
<rect x="393.77" y="43.41" width="0.8" height="0.8" fill="rgb(126,126,126)"/>
<rect x="404.6" y="38.75" width="0.8" height="0.8" fill="rgb(55,55,55)"/>
<rect x="388.86" y="37.97" width="0.8" height="0.8" fill="rgb(58,58,58)"/>
<rect x="398.82" y="39.99" width="0.8" height="0.8" fill="rgb(43,43,43)"/>
<rect x="400.63" y="36.69" width="0.8" height="0.8" fill="rgb(113,113,113)"/>
<rect x="411.73" y="41.9" width="0.8" height="0.8" fill="rgb(58,58,58)"/>
<rect x="411.4" y="43.07" width="0.8" height="0.8" fill="rgb(90,90,90)"/>
<rect x="415.69" y="47.8" width="0.8" height="0.8" fill="rgb(48,48,48)"/>
<rect x="411.84" y="42.61" width="0.8" height="0.8" fill="rgb(126,126,126)"/>
<rect x="409.08" y="43.5" width="0.8" height="0.8" fill="rgb(51,51,51)"/>
<rect x="415.16" y="43.82" width="0.8" height="0.8" fill="rgb(104,104,104)"/>
<rect x="408.41" y="43.23" width="0.8" height="0.8" fill="rgb(92,92,92)"/>
<rect x="412.32" y="43.23" width="0.8" height="0.8" fill="rgb(89,89,89)"/>
<rect x="417.2" y="45.6" width="0.8" height="0.8" fill="rgb(127,127,127)"/>
<rect x="407.32" y="40.6" width="0.8" height="0.8" fill="rgb(100,100,100)"/>
<rect x="411.72" y="42.41" width="0.8" height="0.8" fill="rgb(49,49,49)"/>
<rect x="411.94" y="45.22" width="0.8" height="0.8" fill="rgb(81,81,81)"/>
<rect x="413.36" y="41.97" width="0.8" height="0.8" fill="rgb(64,64,64)"/>
<rect x="411.45" y="43.09" width="0.8" height="0.8" fill="rgb(106,106,106)"/>
<rect x="410.77" y="43.71" width="0.8" height="0.8" fill="rgb(101,101,101)"/>
<rect x="414.49" y="41.53" width="0.8" height="0.8" fill="rgb(66,66,66)"/>
<rect x="412" y="43.98" width="0.8" height="0.8" fill="rgb(134,134,134)"/>
<rect x="405.99" y="41.3" width="0.8" height="0.8" fill="rgb(98,98,98)"/>
<rect x="412.9" y="40.82" width="0.8" height="0.8" fill="rgb(114,114,114)"/>
<rect x="413.21" y="42.07" width="0.8" height="0.8" fill="rgb(47,47,47)"/>
<rect x="407.37" y="41.51" width="0.8" height="0.8" fill="rgb(79,79,79)"/>
<rect x="407.56" y="42.87" width="0.8" height="0.8" fill="rgb(49,49,49)"/>
<rect x="409.45" y="42.16" width="0.8" height="0.8" fill="rgb(116,116,116)"/>
<rect x="412.13" y="45.58" width="0.8" height="0.8" fill="rgb(119,119,119)"/>
<rect x="410.3" y="41.69" width="0.8" height="0.8" fill="rgb(56,56,56)"/>
<rect x="414.14" y="44.5" width="0.8" height="0.8" fill="rgb(117,117,117)"/>
<rect x="411.94" y="42" width="0.8" height="0.8" fill="rgb(47,47,47)"/>
<rect x="408.35" y="41.59" width="0.8" height="0.8" fill="rgb(63,63,63)"/>
<rect x="408.23" y="41.41" width="0.8" height="0.8" fill="rgb(126,126,126)"/>
<rect x="411.23" y="40.31" width="0.8" height="0.8" fill="rgb(119,119,119)"/>
<rect x="409.76" y="42.65" width="0.8" height="0.8" fill="rgb(50,50,50)"/>
<rect x="411.8" y="44.86" width="0.8" height="0.8" fill="rgb(65,65,65)"/>
<rect x="411.47" y="41.74" width="0.8" height="0.8" fill="rgb(102,102,102)"/>
<rect x="410.32" y="45.92" width="0.8" height="0.8" fill="rgb(79,79,79)"/>
<rect x="408.48" y="44.89" width="0.8" height="0.8" fill="rgb(105,105,105)"/>
<rect x="410.66" y="40.53" width="0.8" height="0.8" fill="rgb(83,83,83)"/>
<rect x="411.75" y="41.52" width="0.8" height="0.8" fill="rgb(69,69,69)"/>
<rect x="412.28" y="40.49" width="0.8" height="0.8" fill="rgb(78,78,78)"/>
<rect x="413.35" y="45.1" width="0.8" height="0.8" fill="rgb(105,105,105)"/>
<rect x="409.04" y="38.64" width="0.8" height="0.8" fill="rgb(50,50,50)"/>
<rect x="416.13" y="43.05" width="0.8" height="0.8" fill="rgb(96,96,96)"/>
<rect x="411.11" y="44.25" width="0.8" height="0.8" fill="rgb(91,91,91)"/>
<rect x="409.81" y="42.81" width="0.8" height="0.8" fill="rgb(91,91,91)"/>
<rect x="429.5" y="31.5" width="40" height="40" fill="none" stroke="#4a4a4a" stroke-width="0.8"/>
<line x1="428.2" y1="31.5" x2="429.5" y2="31.5" stroke="#777" stroke-width="0.5"/>
<line x1="429.5" y1="71.5" x2="429.5" y2="72.8" stroke="#777" stroke-width="0.5"/>
<text x="428.3" y="33.1" font-size="2.6" fill="#666" text-anchor="end">10<tspan font-size="1.8" dy="-1">4</tspan></text>
<text x="429.5" y="75.1" font-size="2.6" fill="#666" text-anchor="middle">10<tspan font-size="1.8" dy="-1">0</tspan></text>
<line x1="428.2" y1="41.5" x2="429.5" y2="41.5" stroke="#777" stroke-width="0.5"/>
<line x1="439.5" y1="71.5" x2="439.5" y2="72.8" stroke="#777" stroke-width="0.5"/>
<text x="428.3" y="43.1" font-size="2.6" fill="#666" text-anchor="end">10<tspan font-size="1.8" dy="-1">3</tspan></text>
<text x="439.5" y="75.1" font-size="2.6" fill="#666" text-anchor="middle">10<tspan font-size="1.8" dy="-1">1</tspan></text>
<line x1="428.2" y1="51.5" x2="429.5" y2="51.5" stroke="#777" stroke-width="0.5"/>
<line x1="449.5" y1="71.5" x2="449.5" y2="72.8" stroke="#777" stroke-width="0.5"/>
<text x="428.3" y="53.1" font-size="2.6" fill="#666" text-anchor="end">10<tspan font-size="1.8" dy="-1">2</tspan></text>
<text x="449.5" y="75.1" font-size="2.6" fill="#666" text-anchor="middle">10<tspan font-size="1.8" dy="-1">2</tspan></text>
<line x1="428.2" y1="61.5" x2="429.5" y2="61.5" stroke="#777" stroke-width="0.5"/>
<line x1="459.5" y1="71.5" x2="459.5" y2="72.8" stroke="#777" stroke-width="0.5"/>
<text x="428.3" y="63.1" font-size="2.6" fill="#666" text-anchor="end">10<tspan font-size="1.8" dy="-1">1</tspan></text>
<text x="459.5" y="75.1" font-size="2.6" fill="#666" text-anchor="middle">10<tspan font-size="1.8" dy="-1">3</tspan></text>
<line x1="428.2" y1="71.5" x2="429.5" y2="71.5" stroke="#777" stroke-width="0.5"/>
<line x1="469.5" y1="71.5" x2="469.5" y2="72.8" stroke="#777" stroke-width="0.5"/>
<text x="428.3" y="73.1" font-size="2.6" fill="#666" text-anchor="end">10<tspan font-size="1.8" dy="-1">0</tspan></text>
<text x="469.5" y="75.1" font-size="2.6" fill="#666" text-anchor="middle">10<tspan font-size="1.8" dy="-1">4</tspan></text>
<rect x="456.16" y="38.49" width="0.8" height="0.8" fill="rgb(74,74,74)"/>
<rect x="451.46" y="37.31" width="0.8" height="0.8" fill="rgb(103,103,103)"/>
<rect x="459.17" y="44.76" width="0.8" height="0.8" fill="rgb(43,43,43)"/>
<rect x="454.51" y="45.28" width="0.8" height="0.8" fill="rgb(96,96,96)"/>
<rect x="460.08" y="46.18" width="0.8" height="0.8" fill="rgb(42,42,42)"/>
<rect x="464.43" y="44.28" width="0.8" height="0.8" fill="rgb(81,81,81)"/>
<rect x="449.93" y="38.88" width="0.8" height="0.8" fill="rgb(96,96,96)"/>
<rect x="458.46" y="41.56" width="0.8" height="0.8" fill="rgb(40,40,40)"/>
<rect x="447.22" y="42.38" width="0.8" height="0.8" fill="rgb(60,60,60)"/>
<rect x="455.09" y="46.65" width="0.8" height="0.8" fill="rgb(55,55,55)"/>
<rect x="444.24" y="42.33" width="0.8" height="0.8" fill="rgb(69,69,69)"/>
<rect x="449.19" y="38.88" width="0.8" height="0.8" fill="rgb(87,87,87)"/>
<rect x="454.82" y="39.91" width="0.8" height="0.8" fill="rgb(127,127,127)"/>
<rect x="460.36" y="40.49" width="0.8" height="0.8" fill="rgb(49,49,49)"/>
<rect x="454.36" y="42.26" width="0.8" height="0.8" fill="rgb(132,132,132)"/>
<rect x="451.27" y="42.46" width="0.8" height="0.8" fill="rgb(76,76,76)"/>
<rect x="464.11" y="46" width="0.8" height="0.8" fill="rgb(107,107,107)"/>
<rect x="450.17" y="41.85" width="0.8" height="0.8" fill="rgb(124,124,124)"/>
<rect x="460.43" y="41.55" width="0.8" height="0.8" fill="rgb(137,137,137)"/>
<rect x="454.51" y="43.79" width="0.8" height="0.8" fill="rgb(50,50,50)"/>
<rect x="451.62" y="41.7" width="0.8" height="0.8" fill="rgb(95,95,95)"/>
<rect x="449.8" y="40.94" width="0.8" height="0.8" fill="rgb(81,81,81)"/>
<rect x="463.14" y="46.92" width="0.8" height="0.8" fill="rgb(50,50,50)"/>
<rect x="462.08" y="45.6" width="0.8" height="0.8" fill="rgb(73,73,73)"/>
<rect x="453.11" y="38.57" width="0.8" height="0.8" fill="rgb(73,73,73)"/>
<rect x="455.07" y="44.3" width="0.8" height="0.8" fill="rgb(139,139,139)"/>
<rect x="456.6" y="41.65" width="0.8" height="0.8" fill="rgb(73,73,73)"/>
<rect x="451.93" y="40" width="0.8" height="0.8" fill="rgb(55,55,55)"/>
<rect x="462.7" y="45.47" width="0.8" height="0.8" fill="rgb(61,61,61)"/>
<rect x="449.58" y="38.07" width="0.8" height="0.8" fill="rgb(126,126,126)"/>
<rect x="444.58" y="36.73" width="0.8" height="0.8" fill="rgb(96,96,96)"/>
<rect x="462.31" y="44.9" width="0.8" height="0.8" fill="rgb(133,133,133)"/>
<rect x="458.86" y="46.42" width="0.8" height="0.8" fill="rgb(102,102,102)"/>
<rect x="464.94" y="46.75" width="0.8" height="0.8" fill="rgb(47,47,47)"/>
<rect x="447.63" y="42.27" width="0.8" height="0.8" fill="rgb(50,50,50)"/>
<rect x="445.57" y="40.46" width="0.8" height="0.8" fill="rgb(97,97,97)"/>
<rect x="458.73" y="41.41" width="0.8" height="0.8" fill="rgb(84,84,84)"/>
<rect x="456.14" y="40.34" width="0.8" height="0.8" fill="rgb(107,107,107)"/>
<rect x="461.22" y="43.08" width="0.8" height="0.8" fill="rgb(48,48,48)"/>
<rect x="455.65" y="41.56" width="0.8" height="0.8" fill="rgb(105,105,105)"/>
<rect x="452.06" y="39.01" width="0.8" height="0.8" fill="rgb(73,73,73)"/>
<rect x="456.93" y="41.03" width="0.8" height="0.8" fill="rgb(64,64,64)"/>
<rect x="462.64" y="46.75" width="0.8" height="0.8" fill="rgb(110,110,110)"/>
<rect x="451.83" y="41.37" width="0.8" height="0.8" fill="rgb(106,106,106)"/>
<rect x="455.84" y="43.34" width="0.8" height="0.8" fill="rgb(137,137,137)"/>
<rect x="467.05" y="43.11" width="0.8" height="0.8" fill="rgb(102,102,102)"/>
<rect x="455.18" y="45.88" width="0.8" height="0.8" fill="rgb(105,105,105)"/>
<rect x="457.2" y="44.1" width="0.8" height="0.8" fill="rgb(78,78,78)"/>
<rect x="460.1" y="46.18" width="0.8" height="0.8" fill="rgb(111,111,111)"/>
<rect x="454.1" y="44.24" width="0.8" height="0.8" fill="rgb(83,83,83)"/>
<rect x="453.57" y="41.58" width="0.8" height="0.8" fill="rgb(52,52,52)"/>
<rect x="449.67" y="37.69" width="0.8" height="0.8" fill="rgb(137,137,137)"/>
<rect x="452.91" y="42.26" width="0.8" height="0.8" fill="rgb(95,95,95)"/>
<rect x="461.95" y="49.6" width="0.8" height="0.8" fill="rgb(116,116,116)"/>
<rect x="459.14" y="42.44" width="0.8" height="0.8" fill="rgb(73,73,73)"/>
<rect x="461.72" y="43.17" width="0.8" height="0.8" fill="rgb(100,100,100)"/>
<rect x="457.27" y="44.62" width="0.8" height="0.8" fill="rgb(58,58,58)"/>
<rect x="451.74" y="40.28" width="0.8" height="0.8" fill="rgb(108,108,108)"/>
<rect x="455.83" y="40.76" width="0.8" height="0.8" fill="rgb(113,113,113)"/>
<rect x="454.54" y="41.24" width="0.8" height="0.8" fill="rgb(85,85,85)"/>
<rect x="458.82" y="46.55" width="0.8" height="0.8" fill="rgb(79,79,79)"/>
<rect x="461.86" y="41.6" width="0.8" height="0.8" fill="rgb(128,128,128)"/>
<rect x="452.49" y="41.86" width="0.8" height="0.8" fill="rgb(69,69,69)"/>
<rect x="449.78" y="41.7" width="0.8" height="0.8" fill="rgb(124,124,124)"/>
<rect x="460.34" y="45.28" width="0.8" height="0.8" fill="rgb(77,77,77)"/>
<rect x="448.07" y="42.07" width="0.8" height="0.8" fill="rgb(82,82,82)"/>
<rect x="462.3" y="46.62" width="0.8" height="0.8" fill="rgb(82,82,82)"/>
<rect x="454.49" y="42.27" width="0.8" height="0.8" fill="rgb(135,135,135)"/>
<rect x="453.31" y="42.69" width="0.8" height="0.8" fill="rgb(119,119,119)"/>
<rect x="462.87" y="45.6" width="0.8" height="0.8" fill="rgb(45,45,45)"/>
<rect x="458.09" y="42.24" width="0.8" height="0.8" fill="rgb(71,71,71)"/>
<rect x="462.4" y="44.41" width="0.8" height="0.8" fill="rgb(78,78,78)"/>
<rect x="459.95" y="41.74" width="0.8" height="0.8" fill="rgb(96,96,96)"/>
<rect x="457.93" y="43.47" width="0.8" height="0.8" fill="rgb(120,120,120)"/>
<rect x="454.09" y="40.08" width="0.8" height="0.8" fill="rgb(44,44,44)"/>
<rect x="457.13" y="42.12" width="0.8" height="0.8" fill="rgb(54,54,54)"/>
<rect x="462.47" y="48.14" width="0.8" height="0.8" fill="rgb(118,118,118)"/>
<rect x="457.94" y="43.03" width="0.8" height="0.8" fill="rgb(65,65,65)"/>
<rect x="458.79" y="43.73" width="0.8" height="0.8" fill="rgb(41,41,41)"/>
<rect x="449.59" y="36.59" width="0.8" height="0.8" fill="rgb(139,139,139)"/>
<rect x="451.37" y="44.57" width="0.8" height="0.8" fill="rgb(108,108,108)"/>
<rect x="450.22" y="37.09" width="0.8" height="0.8" fill="rgb(126,126,126)"/>
<rect x="458.99" y="40.74" width="0.8" height="0.8" fill="rgb(84,84,84)"/>
<rect x="455.11" y="45.92" width="0.8" height="0.8" fill="rgb(84,84,84)"/>
<rect x="460.27" y="45.34" width="0.8" height="0.8" fill="rgb(134,134,134)"/>
<rect x="454.19" y="40.68" width="0.8" height="0.8" fill="rgb(134,134,134)"/>
<rect x="450.2" y="37.13" width="0.8" height="0.8" fill="rgb(45,45,45)"/>
<rect x="460.94" y="48.34" width="0.8" height="0.8" fill="rgb(112,112,112)"/>
<rect x="446.41" y="37.8" width="0.8" height="0.8" fill="rgb(108,108,108)"/>
<rect x="454.79" y="43.23" width="0.8" height="0.8" fill="rgb(134,134,134)"/>
<rect x="454.85" y="45.49" width="0.8" height="0.8" fill="rgb(67,67,67)"/>
<rect x="460.72" y="47.19" width="0.8" height="0.8" fill="rgb(85,85,85)"/>
<rect x="457.7" y="42.7" width="0.8" height="0.8" fill="rgb(96,96,96)"/>
<rect x="452.73" y="40.1" width="0.8" height="0.8" fill="rgb(98,98,98)"/>
<rect x="450.29" y="41.96" width="0.8" height="0.8" fill="rgb(135,135,135)"/>
<rect x="455.47" y="43.06" width="0.8" height="0.8" fill="rgb(57,57,57)"/>
<rect x="460.88" y="41" width="0.8" height="0.8" fill="rgb(99,99,99)"/>
<rect x="462.9" y="46.46" width="0.8" height="0.8" fill="rgb(64,64,64)"/>
<rect x="446.82" y="39.72" width="0.8" height="0.8" fill="rgb(84,84,84)"/>
<rect x="457.89" y="43.88" width="0.8" height="0.8" fill="rgb(118,118,118)"/>
<rect x="447.47" y="41.42" width="0.8" height="0.8" fill="rgb(134,134,134)"/>
<rect x="449.21" y="43.76" width="0.8" height="0.8" fill="rgb(136,136,136)"/>
<rect x="459.1" y="43.98" width="0.8" height="0.8" fill="rgb(75,75,75)"/>
<rect x="449.15" y="42.4" width="0.8" height="0.8" fill="rgb(134,134,134)"/>
<rect x="461.83" y="47.49" width="0.8" height="0.8" fill="rgb(47,47,47)"/>
<rect x="453.42" y="39.13" width="0.8" height="0.8" fill="rgb(45,45,45)"/>
<rect x="458.11" y="44" width="0.8" height="0.8" fill="rgb(48,48,48)"/>
<rect x="453.11" y="38.36" width="0.8" height="0.8" fill="rgb(91,91,91)"/>
<rect x="448.85" y="40.01" width="0.8" height="0.8" fill="rgb(93,93,93)"/>
<rect x="454.89" y="45.97" width="0.8" height="0.8" fill="rgb(60,60,60)"/>
<rect x="462.58" y="48.93" width="0.8" height="0.8" fill="rgb(94,94,94)"/>
<rect x="458.34" y="44.19" width="0.8" height="0.8" fill="rgb(59,59,59)"/>
<rect x="451.27" y="42.53" width="0.8" height="0.8" fill="rgb(92,92,92)"/>
<rect x="451.64" y="44.17" width="0.8" height="0.8" fill="rgb(133,133,133)"/>
<rect x="449.31" y="37.28" width="0.8" height="0.8" fill="rgb(71,71,71)"/>
<rect x="464.07" y="46.98" width="0.8" height="0.8" fill="rgb(117,117,117)"/>
<rect x="451.33" y="43.41" width="0.8" height="0.8" fill="rgb(43,43,43)"/>
<rect x="449.9" y="39.72" width="0.8" height="0.8" fill="rgb(117,117,117)"/>
<rect x="462.37" y="45.22" width="0.8" height="0.8" fill="rgb(134,134,134)"/>
<rect x="446.83" y="42.11" width="0.8" height="0.8" fill="rgb(131,131,131)"/>
<rect x="454.37" y="43.1" width="0.8" height="0.8" fill="rgb(116,116,116)"/>
<rect x="458.6" y="43.17" width="0.8" height="0.8" fill="rgb(97,97,97)"/>
<rect x="448.68" y="38.39" width="0.8" height="0.8" fill="rgb(53,53,53)"/>
<rect x="451.77" y="43.21" width="0.8" height="0.8" fill="rgb(90,90,90)"/>
<rect x="451.71" y="42.01" width="0.8" height="0.8" fill="rgb(49,49,49)"/>
<rect x="446.58" y="36.84" width="0.8" height="0.8" fill="rgb(70,70,70)"/>
<rect x="452.25" y="41.93" width="0.8" height="0.8" fill="rgb(48,48,48)"/>
<rect x="457.18" y="47.85" width="0.8" height="0.8" fill="rgb(126,126,126)"/>
<rect x="452.77" y="45.93" width="0.8" height="0.8" fill="rgb(88,88,88)"/>
<rect x="452.22" y="42.46" width="0.8" height="0.8" fill="rgb(59,59,59)"/>
<rect x="455.92" y="45.53" width="0.8" height="0.8" fill="rgb(70,70,70)"/>
<rect x="459.79" y="43.68" width="0.8" height="0.8" fill="rgb(81,81,81)"/>
<rect x="452.49" y="43.46" width="0.8" height="0.8" fill="rgb(100,100,100)"/>
<rect x="456.31" y="46.25" width="0.8" height="0.8" fill="rgb(43,43,43)"/>
<rect x="454.67" y="43.91" width="0.8" height="0.8" fill="rgb(121,121,121)"/>
<rect x="450.45" y="40.18" width="0.8" height="0.8" fill="rgb(65,65,65)"/>
<rect x="461.85" y="43.02" width="0.8" height="0.8" fill="rgb(83,83,83)"/>
<rect x="446.26" y="37.61" width="0.8" height="0.8" fill="rgb(65,65,65)"/>
<rect x="462.8" y="44.05" width="0.8" height="0.8" fill="rgb(125,125,125)"/>
<rect x="457.84" y="43.68" width="0.8" height="0.8" fill="rgb(46,46,46)"/>
<rect x="449.42" y="38.98" width="0.8" height="0.8" fill="rgb(103,103,103)"/>
<rect x="460.46" y="41.08" width="0.8" height="0.8" fill="rgb(63,63,63)"/>
<rect x="455.31" y="41.91" width="0.8" height="0.8" fill="rgb(59,59,59)"/>
<rect x="462.23" y="44.44" width="0.8" height="0.8" fill="rgb(104,104,104)"/>
<rect x="452.47" y="40.95" width="0.8" height="0.8" fill="rgb(110,110,110)"/>
<rect x="450.02" y="44.84" width="0.8" height="0.8" fill="rgb(90,90,90)"/>
<rect x="453.6" y="44.52" width="0.8" height="0.8" fill="rgb(113,113,113)"/>
<rect x="449.04" y="42" width="0.8" height="0.8" fill="rgb(116,116,116)"/>
<rect x="454.84" y="43.62" width="0.8" height="0.8" fill="rgb(69,69,69)"/>
<rect x="455.25" y="39.46" width="0.8" height="0.8" fill="rgb(100,100,100)"/>
<rect x="463.68" y="43.58" width="0.8" height="0.8" fill="rgb(137,137,137)"/>
<rect x="462.92" y="48.17" width="0.8" height="0.8" fill="rgb(106,106,106)"/>
<rect x="452.04" y="41.42" width="0.8" height="0.8" fill="rgb(63,63,63)"/>
<rect x="458.45" y="44.31" width="0.8" height="0.8" fill="rgb(128,128,128)"/>
<rect x="459.25" y="46" width="0.8" height="0.8" fill="rgb(127,127,127)"/>
<rect x="465.82" y="42.45" width="0.8" height="0.8" fill="rgb(114,114,114)"/>
<rect x="456.33" y="45.38" width="0.8" height="0.8" fill="rgb(84,84,84)"/>
<rect x="445.92" y="41.13" width="0.8" height="0.8" fill="rgb(132,132,132)"/>
<rect x="452.43" y="44.38" width="0.8" height="0.8" fill="rgb(57,57,57)"/>
<rect x="449.48" y="41.48" width="0.8" height="0.8" fill="rgb(134,134,134)"/>
<rect x="459.66" y="40.59" width="0.8" height="0.8" fill="rgb(131,131,131)"/>
<rect x="459.99" y="46.59" width="0.8" height="0.8" fill="rgb(122,122,122)"/>
<rect x="452.94" y="43.12" width="0.8" height="0.8" fill="rgb(121,121,121)"/>
<rect x="449.25" y="40.56" width="0.8" height="0.8" fill="rgb(105,105,105)"/>
<rect x="447.97" y="42.11" width="0.8" height="0.8" fill="rgb(86,86,86)"/>
<rect x="462.13" y="43.39" width="0.8" height="0.8" fill="rgb(66,66,66)"/>
<rect x="463.46" y="47.71" width="0.8" height="0.8" fill="rgb(132,132,132)"/>
<rect x="455.46" y="46.34" width="0.8" height="0.8" fill="rgb(129,129,129)"/>
<rect x="455.06" y="42.45" width="0.8" height="0.8" fill="rgb(135,135,135)"/>
<rect x="450" y="44.5" width="0.8" height="0.8" fill="rgb(41,41,41)"/>
<rect x="448.67" y="38.1" width="0.8" height="0.8" fill="rgb(53,53,53)"/>
<rect x="460.43" y="42.83" width="0.8" height="0.8" fill="rgb(97,97,97)"/>
<rect x="451.9" y="42.41" width="0.8" height="0.8" fill="rgb(48,48,48)"/>
<rect x="459.19" y="43.13" width="0.8" height="0.8" fill="rgb(90,90,90)"/>
<rect x="459.23" y="41.02" width="0.8" height="0.8" fill="rgb(130,130,130)"/>
<rect x="457.41" y="46.07" width="0.8" height="0.8" fill="rgb(65,65,65)"/>
<rect x="453.83" y="42.55" width="0.8" height="0.8" fill="rgb(82,82,82)"/>
<rect x="453.45" y="43.05" width="0.8" height="0.8" fill="rgb(79,79,79)"/>
<rect x="448.91" y="39.59" width="0.8" height="0.8" fill="rgb(136,136,136)"/>
<rect x="460.32" y="43.23" width="0.8" height="0.8" fill="rgb(135,135,135)"/>
<rect x="448.34" y="39.96" width="0.8" height="0.8" fill="rgb(82,82,82)"/>
<rect x="462.03" y="41.8" width="0.8" height="0.8" fill="rgb(72,72,72)"/>
<rect x="454.55" y="40.51" width="0.8" height="0.8" fill="rgb(80,80,80)"/>
<rect x="453.36" y="41.24" width="0.8" height="0.8" fill="rgb(112,112,112)"/>
<rect x="456.25" y="43.1" width="0.8" height="0.8" fill="rgb(66,66,66)"/>
<rect x="458.1" y="42.66" width="0.8" height="0.8" fill="rgb(42,42,42)"/>
<rect x="464.08" y="45.81" width="0.8" height="0.8" fill="rgb(49,49,49)"/>
<rect x="461.14" y="42.59" width="0.8" height="0.8" fill="rgb(69,69,69)"/>
<rect x="457.47" y="44.27" width="0.8" height="0.8" fill="rgb(120,120,120)"/>
<rect x="459.65" y="44.07" width="0.8" height="0.8" fill="rgb(126,126,126)"/>
<rect x="460.96" y="45.26" width="0.8" height="0.8" fill="rgb(51,51,51)"/>
<rect x="460.24" y="44.29" width="0.8" height="0.8" fill="rgb(106,106,106)"/>
<rect x="458.15" y="41.53" width="0.8" height="0.8" fill="rgb(85,85,85)"/>
<rect x="461.35" y="42.35" width="0.8" height="0.8" fill="rgb(117,117,117)"/>
<rect x="457.7" y="42.14" width="0.8" height="0.8" fill="rgb(64,64,64)"/>
<rect x="457.88" y="44.41" width="0.8" height="0.8" fill="rgb(54,54,54)"/>
<rect x="460.73" y="46.51" width="0.8" height="0.8" fill="rgb(52,52,52)"/>
<rect x="458.79" y="43.37" width="0.8" height="0.8" fill="rgb(83,83,83)"/>
<rect x="460.35" y="45.15" width="0.8" height="0.8" fill="rgb(128,128,128)"/>
<rect x="460.87" y="45.57" width="0.8" height="0.8" fill="rgb(116,116,116)"/>
<rect x="460.53" y="43" width="0.8" height="0.8" fill="rgb(51,51,51)"/>
<rect x="461.12" y="46.3" width="0.8" height="0.8" fill="rgb(58,58,58)"/>
<rect x="461.15" y="43.13" width="0.8" height="0.8" fill="rgb(121,121,121)"/>
<rect x="463.17" y="42.5" width="0.8" height="0.8" fill="rgb(85,85,85)"/>
<rect x="461.02" y="48.11" width="0.8" height="0.8" fill="rgb(124,124,124)"/>
<rect x="456.35" y="44.64" width="0.8" height="0.8" fill="rgb(136,136,136)"/>
<rect x="459.12" y="41.86" width="0.8" height="0.8" fill="rgb(136,136,136)"/>
<rect x="462.92" y="46.34" width="0.8" height="0.8" fill="rgb(118,118,118)"/>
<rect x="458.53" y="46.77" width="0.8" height="0.8" fill="rgb(44,44,44)"/>
<rect x="464.43" y="42.88" width="0.8" height="0.8" fill="rgb(76,76,76)"/>
<rect x="457.04" y="44.02" width="0.8" height="0.8" fill="rgb(109,109,109)"/>
<rect x="457.2" y="43.74" width="0.8" height="0.8" fill="rgb(101,101,101)"/>
<rect x="461.51" y="46.15" width="0.8" height="0.8" fill="rgb(85,85,85)"/>
<rect x="459.3" y="41.92" width="0.8" height="0.8" fill="rgb(78,78,78)"/>
<rect x="463.55" y="46.58" width="0.8" height="0.8" fill="rgb(90,90,90)"/>
<rect x="457.07" y="44.24" width="0.8" height="0.8" fill="rgb(111,111,111)"/>
<rect x="456.27" y="39.58" width="0.8" height="0.8" fill="rgb(68,68,68)"/>
<rect x="456.92" y="46.62" width="0.8" height="0.8" fill="rgb(40,40,40)"/>
<rect x="457.9" y="42.68" width="0.8" height="0.8" fill="rgb(73,73,73)"/>
<rect x="457.34" y="45.01" width="0.8" height="0.8" fill="rgb(118,118,118)"/>
<rect x="464.29" y="47.05" width="0.8" height="0.8" fill="rgb(80,80,80)"/>
<rect x="461.94" y="45.27" width="0.8" height="0.8" fill="rgb(111,111,111)"/>
<rect x="459.94" y="45.3" width="0.8" height="0.8" fill="rgb(108,108,108)"/>
<rect x="460.85" y="44.8" width="0.8" height="0.8" fill="rgb(117,117,117)"/>
<rect x="463.4" y="44.6" width="0.8" height="0.8" fill="rgb(95,95,95)"/>
<rect x="463.82" y="45.26" width="0.8" height="0.8" fill="rgb(122,122,122)"/>
<rect x="463.26" y="47.2" width="0.8" height="0.8" fill="rgb(89,89,89)"/>
<rect x="458.96" y="45.65" width="0.8" height="0.8" fill="rgb(133,133,133)"/>
<rect x="458.08" y="46.9" width="0.8" height="0.8" fill="rgb(93,93,93)"/>
<rect x="459.81" y="44.64" width="0.8" height="0.8" fill="rgb(40,40,40)"/>
<rect x="462.15" y="47.29" width="0.8" height="0.8" fill="rgb(115,115,115)"/>
<rect x="464.91" y="44.87" width="0.8" height="0.8" fill="rgb(54,54,54)"/>
<rect x="465.31" y="46.6" width="0.8" height="0.8" fill="rgb(125,125,125)"/>
<rect x="459.52" y="43.76" width="0.8" height="0.8" fill="rgb(40,40,40)"/>
<rect x="461.26" y="44.25" width="0.8" height="0.8" fill="rgb(65,65,65)"/>
<rect x="461.66" y="47.51" width="0.8" height="0.8" fill="rgb(53,53,53)"/>
<rect x="461.8" y="46.97" width="0.8" height="0.8" fill="rgb(134,134,134)"/>
<rect x="455.11" y="45.96" width="0.8" height="0.8" fill="rgb(45,45,45)"/>
<rect x="460.51" y="45.38" width="0.8" height="0.8" fill="rgb(124,124,124)"/>
<rect x="456.49" y="43.84" width="0.8" height="0.8" fill="rgb(135,135,135)"/>
<rect x="463.57" y="44.42" width="0.8" height="0.8" fill="rgb(54,54,54)"/>
<rect x="459.12" y="46.31" width="0.8" height="0.8" fill="rgb(72,72,72)"/>
<rect x="458.69" y="44.75" width="0.8" height="0.8" fill="rgb(85,85,85)"/>
<rect x="458.6" y="45.06" width="0.8" height="0.8" fill="rgb(115,115,115)"/>
<rect x="457.11" y="43.15" width="0.8" height="0.8" fill="rgb(76,76,76)"/>
<rect x="459.98" y="45.48" width="0.8" height="0.8" fill="rgb(74,74,74)"/>
<rect x="457.7" y="46.11" width="0.8" height="0.8" fill="rgb(113,113,113)"/>
<rect x="464.19" y="48.64" width="0.8" height="0.8" fill="rgb(93,93,93)"/>
<rect x="459.42" y="42.68" width="0.8" height="0.8" fill="rgb(77,77,77)"/>
<rect x="456.16" y="41.24" width="0.8" height="0.8" fill="rgb(106,106,106)"/>
<rect x="462.39" y="48.28" width="0.8" height="0.8" fill="rgb(134,134,134)"/>
<line x1="495.3" y1="20.5" x2="495.3" y2="79.2" stroke="#1e1e1e" stroke-width="0.9"/>
<line x1="493.4" y1="79.2" x2="495.3" y2="79.2" stroke="#1e1e1e" stroke-width="0.7"/>
<text x="492.6" y="80.1" font-size="2.6" fill="#777" text-anchor="end">0</text>
<line x1="493.4" y1="69.43" x2="495.3" y2="69.43" stroke="#1e1e1e" stroke-width="0.7"/>
<text x="492.6" y="70.33" font-size="2.6" fill="#777" text-anchor="end">1</text>
<line x1="493.4" y1="59.66" x2="495.3" y2="59.66" stroke="#1e1e1e" stroke-width="0.7"/>
<text x="492.6" y="60.56" font-size="2.6" fill="#777" text-anchor="end">2</text>
<line x1="493.4" y1="49.89" x2="495.3" y2="49.89" stroke="#1e1e1e" stroke-width="0.7"/>
<text x="492.6" y="50.79" font-size="2.6" fill="#777" text-anchor="end">3</text>
<line x1="493.4" y1="40.12" x2="495.3" y2="40.12" stroke="#1e1e1e" stroke-width="0.7"/>
<text x="492.6" y="41.02" font-size="2.6" fill="#777" text-anchor="end">4</text>
<line x1="493.4" y1="30.35" x2="495.3" y2="30.35" stroke="#1e1e1e" stroke-width="0.7"/>
<text x="492.6" y="31.25" font-size="2.6" fill="#777" text-anchor="end">5</text>
<line x1="493.4" y1="20.58" x2="495.3" y2="20.58" stroke="#1e1e1e" stroke-width="0.7"/>
<text x="492.6" y="21.48" font-size="2.6" fill="#777" text-anchor="end">6</text>
<line x1="495.3" y1="79.2" x2="514.3" y2="79.2" stroke="#1e1e1e" stroke-width="0.9"/>
<text font-size="4.77" text-anchor="middle" stroke="#1a1a1a" stroke-width="0.14" transform="translate(487 51.9) scale(1 1.3) rotate(-90)">Proliferation index</text>
<polygon points="500,36.77 498.3,33.82 501.7,33.82" fill="#1a1a1a"/>
<line x1="500" y1="36.3" x2="500" y2="49" stroke="#444" stroke-width="1"/>
<line x1="498.4" y1="36.3" x2="501.6" y2="36.3" stroke="#444" stroke-width="1"/>
<line x1="498.4" y1="49" x2="501.6" y2="49" stroke="#444" stroke-width="1"/>
<line x1="496.7" y1="42.3" x2="503.6" y2="42.3" stroke="#1a1a1a" stroke-width="1.12"/>
<circle cx="500" cy="57.2" r="1.18" fill="#555"/>
<circle cx="509.6" cy="56.5" r="0.71" fill="#555"/>
<polygon points="509.6,61.9 511.6,63.5 509.6,65.1 507.6,63.5" fill="#111"/>
<line x1="506.7" y1="63.5" x2="512.4" y2="63.5" stroke="#1a1a1a" stroke-width="1.12"/>
<text x="499.6" y="83.6" font-size="3" fill="#555" text-anchor="middle">Ctrl</text>
<text x="512" y="83.6" font-size="3" fill="#555" text-anchor="middle">NOR MSC</text>
<text x="-0.9" y="144.8" font-size="13.5" font-weight="bold" fill="#000">D</text>
<line x1="29.6" y1="168" x2="29.6" y2="231.3" stroke="#1e1e1e" stroke-width="1"/>
<line x1="27.6" y1="231.3" x2="29.6" y2="231.3" stroke="#1e1e1e" stroke-width="1"/>
<text font-size="5.4" text-anchor="end" stroke="#1a1a1a" stroke-width="0.17" transform="translate(26.7 232.87) scale(1 1.17)">0</text>
<line x1="27.6" y1="210.2" x2="29.6" y2="210.2" stroke="#1e1e1e" stroke-width="1"/>
<text font-size="5.4" text-anchor="end" stroke="#1a1a1a" stroke-width="0.17" transform="translate(26.7 211.77) scale(1 1.17)">1000</text>
<line x1="27.6" y1="189.1" x2="29.6" y2="189.1" stroke="#1e1e1e" stroke-width="1"/>
<text font-size="5.4" text-anchor="end" stroke="#1a1a1a" stroke-width="0.17" transform="translate(26.7 190.67) scale(1 1.17)">2000</text>
<line x1="27.6" y1="168" x2="29.6" y2="168" stroke="#1e1e1e" stroke-width="1"/>
<text font-size="5.4" text-anchor="end" stroke="#1a1a1a" stroke-width="0.17" transform="translate(26.7 169.57) scale(1 1.17)">3000</text>
<line x1="29.6" y1="231.3" x2="88.5" y2="231.3" stroke="#1e1e1e" stroke-width="0.9"/>
<text font-size="4" text-anchor="middle" stroke="#1a1a1a" stroke-width="0.17" transform="translate(36.5 237.2) scale(1 1.17)">IFN-&#947;</text>
<text font-size="4" text-anchor="middle" stroke="#1a1a1a" stroke-width="0.17" transform="translate(68.3 237.2) scale(1 1.17)">IL-6</text>
<text font-size="4.53" text-anchor="middle" stroke="#1a1a1a" stroke-width="0.17" transform="translate(11.6 197.5) scale(1 1.17) rotate(-90)">Frequency of cytokine-producing cells</text>
<circle cx="36.7" cy="192.8" r="1.24" fill="#5a5a5a"/>
<circle cx="36.7" cy="195" r="1.24" fill="#5a5a5a"/>
<circle cx="36.7" cy="197" r="1.24" fill="#5a5a5a"/>
<circle cx="36.7" cy="199" r="1.24" fill="#5a5a5a"/>
<circle cx="36.7" cy="201" r="1.24" fill="#5a5a5a"/>
<circle cx="36.7" cy="203" r="1.24" fill="#5a5a5a"/>
<line x1="36.7" y1="194.5" x2="36.7" y2="201" stroke="#555" stroke-width="1"/>
<line x1="35.7" y1="194.5" x2="37.7" y2="194.5" stroke="#555" stroke-width="1"/>
<line x1="35.7" y1="201" x2="37.7" y2="201" stroke="#555" stroke-width="1"/>
<line x1="32.3" y1="197.6" x2="41.2" y2="197.6" stroke="#444" stroke-width="1.12"/>
<polygon points="51,188.05 51.75,189.57 53.43,189.81 52.21,190.99 52.5,192.66 51,191.88 49.5,192.66 49.79,190.99 48.57,189.81 50.25,189.57" fill="#1a1a1a"/>
<circle cx="50.8" cy="201.3" r="1.3" fill="#1a1a1a"/>
<circle cx="50.8" cy="205.3" r="1.3" fill="#1a1a1a"/>
<circle cx="50.8" cy="206.8" r="1.3" fill="#1a1a1a"/>
<circle cx="50.8" cy="208.3" r="1.3" fill="#1a1a1a"/>
<circle cx="50.8" cy="209.8" r="1.3" fill="#1a1a1a"/>
<circle cx="50.8" cy="211.2" r="1.3" fill="#1a1a1a"/>
<line x1="45.6" y1="207.6" x2="55.2" y2="207.6" stroke="#1a1a1a" stroke-width="1.25"/>
<circle cx="68.8" cy="228.8" r="1.3" fill="#1a1a1a"/>
<line x1="64.4" y1="228.8" x2="73.8" y2="228.8" stroke="#1a1a1a" stroke-width="1.12"/>
<polygon points="83.6,162.65 84.35,164.17 86.03,164.41 84.81,165.59 85.1,167.26 83.6,166.47 82.1,167.26 82.39,165.59 81.17,164.41 82.85,164.17" fill="#1a1a1a"/>
<circle cx="83.1" cy="175.8" r="1.3" fill="#1a1a1a"/>
<circle cx="83.1" cy="187.7" r="1.3" fill="#1a1a1a"/>
<circle cx="83.1" cy="189.4" r="1.3" fill="#1a1a1a"/>
<circle cx="83.1" cy="191.2" r="1.3" fill="#1a1a1a"/>
<line x1="83.1" y1="187.2" x2="83.1" y2="199" stroke="#1a1a1a" stroke-width="1"/>
<line x1="81.8" y1="187.2" x2="84.4" y2="187.2" stroke="#1a1a1a" stroke-width="1"/>
<line x1="81.8" y1="199" x2="84.4" y2="199" stroke="#1a1a1a" stroke-width="1"/>
<line x1="78" y1="193.8" x2="87.8" y2="193.8" stroke="#1a1a1a" stroke-width="1.25"/>
<circle cx="83.1" cy="208.4" r="1.3" fill="#1a1a1a"/>
<circle cx="91.9" cy="167.8" r="1.36" fill="#5a5a5a"/>
<circle cx="91.9" cy="173.3" r="1.36" fill="#1a1a1a"/>
<text font-size="5.9" stroke="#1a1a1a" stroke-width="0.17" transform="translate(96.7 170.7) scale(1 1.17)">Control</text>
<text font-size="5.9" stroke="#1a1a1a" stroke-width="0.17" transform="translate(96.7 176.6) scale(1 1.17)">+2x10<tspan font-size="3.6" dy="-2">4</tspan><tspan dy="2"> NOR MSC</tspan></text>
<text x="-0.2" y="270.3" font-size="13.5" font-weight="bold" fill="#000">E</text>
<line x1="40" y1="294.3" x2="40" y2="357.6" stroke="#1e1e1e" stroke-width="1"/>
<line x1="37.8" y1="357.6" x2="40" y2="357.6" stroke="#1e1e1e" stroke-width="1"/>
<text font-size="5.4" text-anchor="end" stroke="#1a1a1a" stroke-width="0.17" transform="translate(36.9 359.17) scale(1 1.17)">0</text>
<line x1="37.8" y1="344.94" x2="40" y2="344.94" stroke="#1e1e1e" stroke-width="1"/>
<text font-size="5.4" text-anchor="end" stroke="#1a1a1a" stroke-width="0.17" transform="translate(36.9 346.51) scale(1 1.17)">100000</text>
<line x1="37.8" y1="332.28" x2="40" y2="332.28" stroke="#1e1e1e" stroke-width="1"/>
<text font-size="5.4" text-anchor="end" stroke="#1a1a1a" stroke-width="0.17" transform="translate(36.9 333.85) scale(1 1.17)">200000</text>
<line x1="37.8" y1="319.62" x2="40" y2="319.62" stroke="#1e1e1e" stroke-width="1"/>
<text font-size="5.4" text-anchor="end" stroke="#1a1a1a" stroke-width="0.17" transform="translate(36.9 321.19) scale(1 1.17)">300000</text>
<line x1="37.8" y1="306.96" x2="40" y2="306.96" stroke="#1e1e1e" stroke-width="1"/>
<text font-size="5.4" text-anchor="end" stroke="#1a1a1a" stroke-width="0.17" transform="translate(36.9 308.53) scale(1 1.17)">400000</text>
<line x1="37.8" y1="294.3" x2="40" y2="294.3" stroke="#1e1e1e" stroke-width="1"/>
<text font-size="5.4" text-anchor="end" stroke="#1a1a1a" stroke-width="0.17" transform="translate(36.9 295.87) scale(1 1.17)">500000</text>
<line x1="40" y1="294.3" x2="41.5" y2="294.3" stroke="#1e1e1e" stroke-width="0.9"/>
<line x1="40" y1="357.6" x2="123.2" y2="357.6" stroke="#1e1e1e" stroke-width="0.9"/>
<line x1="50.3" y1="357.6" x2="50.3" y2="359.4" stroke="#1e1e1e" stroke-width="0.8"/>
<text font-size="4.6" text-anchor="middle" stroke="#1a1a1a" stroke-width="0.17" transform="translate(50.3 364.6) scale(1 1.17)">0</text>
<line x1="71.1" y1="357.6" x2="71.1" y2="359.4" stroke="#1e1e1e" stroke-width="0.8"/>
<text font-size="4.6" text-anchor="middle" stroke="#1a1a1a" stroke-width="0.17" transform="translate(71.1 364.6) scale(1 1.17)">1</text>
<line x1="91.5" y1="357.6" x2="91.5" y2="359.4" stroke="#1e1e1e" stroke-width="0.8"/>
<text font-size="4.6" text-anchor="middle" stroke="#1a1a1a" stroke-width="0.17" transform="translate(91.5 364.6) scale(1 1.17)">2</text>
<line x1="112.3" y1="357.6" x2="112.3" y2="359.4" stroke="#1e1e1e" stroke-width="0.8"/>
<text font-size="4.6" text-anchor="middle" stroke="#1a1a1a" stroke-width="0.17" transform="translate(112.3 364.6) scale(1 1.17)">4</text>
<text font-size="5.6" stroke="#1a1a1a" stroke-width="0.17" transform="translate(42.6 374.8) scale(1 1.17)">Number of cells added (x10<tspan font-size="3.4" dy="-2">4</tspan><tspan dy="2">)</tspan></text>
<text font-size="5.9" text-anchor="middle" stroke="#1a1a1a" stroke-width="0.17" transform="translate(12.6 323.9) scale(1 1.17) rotate(-90)"><tspan font-size="4.2" dy="-2">3</tspan><tspan dy="2">H-thymidine incorporation</tspan></text>
<polyline points="50.3,304.2 71.1,307.8 91.5,305.8 112.3,304" fill="none" stroke="#1a1a1a" stroke-width="1.2"/>
<polyline points="50.3,304.2 71.1,326.3 91.5,340 112.3,351.3" fill="none" stroke="#1a1a1a" stroke-width="1.2"/>
<polygon points="71.1,306.55 69.9,308.64 72.3,308.64" fill="#1a1a1a"/>
<polygon points="91.5,304.55 90.3,306.64 92.7,306.64" fill="#1a1a1a"/>
<polygon points="112.3,302.75 111.1,304.84 113.5,304.84" fill="#1a1a1a"/>
<rect x="49.2" y="303.1" width="2.2" height="2.2" fill="#1a1a1a"/>
<rect x="70" y="325.2" width="2.2" height="2.2" fill="#1a1a1a"/>
<rect x="90.4" y="338.9" width="2.2" height="2.2" fill="#1a1a1a"/>
<rect x="111.2" y="350.2" width="2.2" height="2.2" fill="#1a1a1a"/>
<line x1="91.5" y1="336.6" x2="91.5" y2="343.6" stroke="#1a1a1a" stroke-width="1"/>
<line x1="90.5" y1="336.6" x2="92.5" y2="336.6" stroke="#1a1a1a" stroke-width="1"/>
<line x1="90.5" y1="343.6" x2="92.5" y2="343.6" stroke="#1a1a1a" stroke-width="1"/>
<polygon points="72.2,312.75 72.95,314.27 74.63,314.51 73.41,315.69 73.7,317.36 72.2,316.57 70.7,317.36 70.99,315.69 69.77,314.51 71.45,314.27" fill="#1a1a1a"/>
<polygon points="92.6,324.75 93.35,326.27 95.03,326.51 93.81,327.69 94.1,329.36 92.6,328.57 91.1,329.36 91.39,327.69 90.17,326.51 91.85,326.27" fill="#1a1a1a"/>
<polygon points="113.4,338.05 114.15,339.57 115.83,339.81 114.61,340.99 114.9,342.66 113.4,341.88 111.9,342.66 112.19,340.99 110.97,339.81 112.65,339.57" fill="#1a1a1a"/>
<line x1="126.3" y1="295.8" x2="135" y2="295.8" stroke="#1a1a1a" stroke-width="0.9"/>
<rect x="129.7" y="294.9" width="1.8" height="1.8" fill="#1a1a1a"/>
<line x1="126.3" y1="303.3" x2="135" y2="303.3" stroke="#1a1a1a" stroke-width="0.9"/>
<polygon points="130.6,302.26 129.6,304 131.6,304" fill="#1a1a1a"/>
<text font-size="5.6" stroke="#1a1a1a" stroke-width="0.17" transform="translate(136.8 297.8) scale(1 1.17)">NOR MSC</text>
<text font-size="5.6" stroke="#1a1a1a" stroke-width="0.17" transform="translate(136.8 305.3) scale(1 1.17)">NOR splenocytes</text>
<text x="157" y="145.1" font-size="13.5" font-weight="bold" fill="#000">F</text>
<line x1="180" y1="173.15" x2="180" y2="229.4" stroke="#1e1e1e" stroke-width="1"/>
<line x1="178" y1="229.4" x2="180" y2="229.4" stroke="#1e1e1e" stroke-width="1"/>
<text font-size="5.5" text-anchor="end" stroke="#1a1a1a" stroke-width="0.17" transform="translate(177.4 231) scale(1 1.17)">0</text>
<line x1="178" y1="223.15" x2="180" y2="223.15" stroke="#1e1e1e" stroke-width="1"/>
<text font-size="5.5" text-anchor="end" stroke="#1a1a1a" stroke-width="0.17" transform="translate(177.4 224.75) scale(1 1.17)">10</text>
<line x1="178" y1="216.9" x2="180" y2="216.9" stroke="#1e1e1e" stroke-width="1"/>
<text font-size="5.5" text-anchor="end" stroke="#1a1a1a" stroke-width="0.17" transform="translate(177.4 218.5) scale(1 1.17)">20</text>
<line x1="178" y1="210.65" x2="180" y2="210.65" stroke="#1e1e1e" stroke-width="1"/>
<text font-size="5.5" text-anchor="end" stroke="#1a1a1a" stroke-width="0.17" transform="translate(177.4 212.25) scale(1 1.17)">30</text>
<line x1="178" y1="204.4" x2="180" y2="204.4" stroke="#1e1e1e" stroke-width="1"/>
<text font-size="5.5" text-anchor="end" stroke="#1a1a1a" stroke-width="0.17" transform="translate(177.4 206) scale(1 1.17)">40</text>
<line x1="178" y1="198.15" x2="180" y2="198.15" stroke="#1e1e1e" stroke-width="1"/>
<text font-size="5.5" text-anchor="end" stroke="#1a1a1a" stroke-width="0.17" transform="translate(177.4 199.75) scale(1 1.17)">50</text>
<line x1="178" y1="191.9" x2="180" y2="191.9" stroke="#1e1e1e" stroke-width="1"/>
<text font-size="5.5" text-anchor="end" stroke="#1a1a1a" stroke-width="0.17" transform="translate(177.4 193.5) scale(1 1.17)">60</text>
<line x1="178" y1="185.65" x2="180" y2="185.65" stroke="#1e1e1e" stroke-width="1"/>
<text font-size="5.5" text-anchor="end" stroke="#1a1a1a" stroke-width="0.17" transform="translate(177.4 187.25) scale(1 1.17)">70</text>
<line x1="178" y1="179.4" x2="180" y2="179.4" stroke="#1e1e1e" stroke-width="1"/>
<text font-size="5.5" text-anchor="end" stroke="#1a1a1a" stroke-width="0.17" transform="translate(177.4 181) scale(1 1.17)">80</text>
<line x1="178" y1="173.15" x2="180" y2="173.15" stroke="#1e1e1e" stroke-width="1"/>
<text font-size="5.5" text-anchor="end" stroke="#1a1a1a" stroke-width="0.17" transform="translate(177.4 174.75) scale(1 1.17)">90</text>
<line x1="180" y1="173.15" x2="181.3" y2="173.15" stroke="#1e1e1e" stroke-width="0.9"/>
<line x1="178" y1="229.4" x2="249.5" y2="229.4" stroke="#1e1e1e" stroke-width="0.9"/>
<text font-size="5.5" text-anchor="middle" stroke="#1a1a1a" stroke-width="0.17" transform="translate(215 165.6) scale(1 1.17)">PD-1</text>
<text font-size="5.6" text-anchor="middle" stroke="#1a1a1a" stroke-width="0.17" transform="translate(187.8 235.6) scale(1 1.17)">0</text>
<text font-size="5.6" text-anchor="middle" stroke="#1a1a1a" stroke-width="0.17" transform="translate(205.8 235.6) scale(1 1.17)">0.05</text>
<text font-size="5.6" text-anchor="middle" stroke="#1a1a1a" stroke-width="0.17" transform="translate(223.1 235.6) scale(1 1.17)">0.5</text>
<text font-size="5.6" text-anchor="middle" stroke="#1a1a1a" stroke-width="0.17" transform="translate(240.2 235.6) scale(1 1.17)">5</text>
<text font-size="5.98" text-anchor="middle" stroke="#1a1a1a" stroke-width="0.17" transform="translate(166.8 200.2) scale(1 1.17) rotate(-90)">% positive cells</text>
<text font-size="5.9" stroke="#1a1a1a" stroke-width="0.17" transform="translate(175.6 244.2) scale(1 1.17)">IFN-&#947; concentration (ng/ml)</text>
<circle cx="187.8" cy="229.6" r="1.3" fill="#1a1a1a"/>
<line x1="199.8" y1="227.6" x2="211.2" y2="227.6" stroke="#999" stroke-width="1.25"/>
<polygon points="205.4,224.15 204.2,226.24 206.6,226.24" fill="#1a1a1a"/>
<circle cx="205.4" cy="228.4" r="1.18" fill="#1a1a1a"/>
<line x1="205.4" y1="225" x2="205.4" y2="229.3" stroke="#1a1a1a" stroke-width="1"/>
<line x1="217.2" y1="228.4" x2="229.1" y2="228.4" stroke="#999" stroke-width="1.25"/>
<circle cx="223.1" cy="226.8" r="1.18" fill="#1a1a1a"/>
<circle cx="223.1" cy="228.7" r="1.18" fill="#1a1a1a"/>
<line x1="234.5" y1="227.2" x2="246.5" y2="227.2" stroke="#1a1a1a" stroke-width="0.88"/>
<circle cx="240.5" cy="224.4" r="1.18" fill="#1a1a1a"/>
<polygon points="240.5,227.25 239.4,229.17 241.6,229.17" fill="#1a1a1a"/>
<line x1="269.2" y1="172.95" x2="269.2" y2="229.2" stroke="#1e1e1e" stroke-width="1"/>
<line x1="267.2" y1="229.2" x2="269.2" y2="229.2" stroke="#1e1e1e" stroke-width="1"/>
<text font-size="5.5" text-anchor="end" stroke="#1a1a1a" stroke-width="0.17" transform="translate(266.6 230.79) scale(1 1.17)">0</text>
<line x1="267.2" y1="222.95" x2="269.2" y2="222.95" stroke="#1e1e1e" stroke-width="1"/>
<text font-size="5.5" text-anchor="end" stroke="#1a1a1a" stroke-width="0.17" transform="translate(266.6 224.54) scale(1 1.17)">10</text>
<line x1="267.2" y1="216.7" x2="269.2" y2="216.7" stroke="#1e1e1e" stroke-width="1"/>
<text font-size="5.5" text-anchor="end" stroke="#1a1a1a" stroke-width="0.17" transform="translate(266.6 218.29) scale(1 1.17)">20</text>
<line x1="267.2" y1="210.45" x2="269.2" y2="210.45" stroke="#1e1e1e" stroke-width="1"/>
<text font-size="5.5" text-anchor="end" stroke="#1a1a1a" stroke-width="0.17" transform="translate(266.6 212.04) scale(1 1.17)">30</text>
<line x1="267.2" y1="204.2" x2="269.2" y2="204.2" stroke="#1e1e1e" stroke-width="1"/>
<text font-size="5.5" text-anchor="end" stroke="#1a1a1a" stroke-width="0.17" transform="translate(266.6 205.79) scale(1 1.17)">40</text>
<line x1="267.2" y1="197.95" x2="269.2" y2="197.95" stroke="#1e1e1e" stroke-width="1"/>
<text font-size="5.5" text-anchor="end" stroke="#1a1a1a" stroke-width="0.17" transform="translate(266.6 199.54) scale(1 1.17)">50</text>
<line x1="267.2" y1="191.7" x2="269.2" y2="191.7" stroke="#1e1e1e" stroke-width="1"/>
<text font-size="5.5" text-anchor="end" stroke="#1a1a1a" stroke-width="0.17" transform="translate(266.6 193.29) scale(1 1.17)">60</text>
<line x1="267.2" y1="185.45" x2="269.2" y2="185.45" stroke="#1e1e1e" stroke-width="1"/>
<text font-size="5.5" text-anchor="end" stroke="#1a1a1a" stroke-width="0.17" transform="translate(266.6 187.04) scale(1 1.17)">70</text>
<line x1="267.2" y1="179.2" x2="269.2" y2="179.2" stroke="#1e1e1e" stroke-width="1"/>
<text font-size="5.5" text-anchor="end" stroke="#1a1a1a" stroke-width="0.17" transform="translate(266.6 180.79) scale(1 1.17)">80</text>
<line x1="267.2" y1="172.95" x2="269.2" y2="172.95" stroke="#1e1e1e" stroke-width="1"/>
<text font-size="5.5" text-anchor="end" stroke="#1a1a1a" stroke-width="0.17" transform="translate(266.6 174.54) scale(1 1.17)">90</text>
<line x1="269.2" y1="172.95" x2="270.5" y2="172.95" stroke="#1e1e1e" stroke-width="0.9"/>
<line x1="267.2" y1="229.2" x2="336" y2="229.2" stroke="#1e1e1e" stroke-width="0.9"/>
<text font-size="5.5" text-anchor="middle" stroke="#1a1a1a" stroke-width="0.17" transform="translate(300.4 165.6) scale(1 1.17)">PD-L1</text>
<text font-size="5.6" text-anchor="middle" stroke="#1a1a1a" stroke-width="0.17" transform="translate(277.6 235.4) scale(1 1.17)">0</text>
<text font-size="5.6" text-anchor="middle" stroke="#1a1a1a" stroke-width="0.17" transform="translate(294.8 235.4) scale(1 1.17)">0.05</text>
<text font-size="5.6" text-anchor="middle" stroke="#1a1a1a" stroke-width="0.17" transform="translate(311 235.4) scale(1 1.17)">0.5</text>
<text font-size="5.6" text-anchor="middle" stroke="#1a1a1a" stroke-width="0.17" transform="translate(327.4 235.4) scale(1 1.17)">5</text>
<text font-size="5.98" text-anchor="middle" stroke="#1a1a1a" stroke-width="0.17" transform="translate(256.8 200.2) scale(1 1.17) rotate(-90)">% positive cells</text>
<text font-size="5.9" stroke="#1a1a1a" stroke-width="0.17" transform="translate(266.2 243.6) scale(1 1.17)">IFN-&#947; concentration (ng/ml)</text>
<line x1="272.5" y1="228.4" x2="283" y2="228.4" stroke="#999" stroke-width="1.25"/>
<circle cx="277.5" cy="226" r="1.18" fill="#1a1a1a"/>
<circle cx="277.9" cy="227.4" r="1.18" fill="#1a1a1a"/>
<circle cx="277.7" cy="228.6" r="1.18" fill="#1a1a1a"/>
<circle cx="294.2" cy="218.4" r="1.18" fill="#1a1a1a"/>
<line x1="288.3" y1="224.4" x2="300" y2="224.4" stroke="#1a1a1a" stroke-width="0.88"/>
<polygon points="294.2,225.45 293.1,227.37 295.3,227.37" fill="#1a1a1a"/>
<circle cx="311" cy="178" r="1.18" fill="#1a1a1a"/>
<line x1="305" y1="198.9" x2="316.8" y2="198.9" stroke="#1a1a1a" stroke-width="0.88"/>
<circle cx="311" cy="207.2" r="1.18" fill="#1a1a1a"/>
<circle cx="311" cy="209.7" r="1.18" fill="#1a1a1a"/>
<circle cx="327.4" cy="176.1" r="1.18" fill="#1a1a1a"/>
<line x1="321.2" y1="189.2" x2="332.4" y2="189.2" stroke="#1a1a1a" stroke-width="0.88"/>
<circle cx="327.4" cy="192.7" r="1.18" fill="#1a1a1a"/>
<circle cx="327.4" cy="198.9" r="1.18" fill="#1a1a1a"/>
<line x1="361.7" y1="173.25" x2="361.7" y2="229.5" stroke="#1e1e1e" stroke-width="1"/>
<line x1="359.7" y1="229.5" x2="361.7" y2="229.5" stroke="#1e1e1e" stroke-width="1"/>
<text font-size="5.5" text-anchor="end" stroke="#1a1a1a" stroke-width="0.17" transform="translate(359.1 231.09) scale(1 1.17)">0</text>
<line x1="359.7" y1="223.25" x2="361.7" y2="223.25" stroke="#1e1e1e" stroke-width="1"/>
<text font-size="5.5" text-anchor="end" stroke="#1a1a1a" stroke-width="0.17" transform="translate(359.1 224.84) scale(1 1.17)">10</text>
<line x1="359.7" y1="217" x2="361.7" y2="217" stroke="#1e1e1e" stroke-width="1"/>
<text font-size="5.5" text-anchor="end" stroke="#1a1a1a" stroke-width="0.17" transform="translate(359.1 218.59) scale(1 1.17)">20</text>
<line x1="359.7" y1="210.75" x2="361.7" y2="210.75" stroke="#1e1e1e" stroke-width="1"/>
<text font-size="5.5" text-anchor="end" stroke="#1a1a1a" stroke-width="0.17" transform="translate(359.1 212.34) scale(1 1.17)">30</text>
<line x1="359.7" y1="204.5" x2="361.7" y2="204.5" stroke="#1e1e1e" stroke-width="1"/>
<text font-size="5.5" text-anchor="end" stroke="#1a1a1a" stroke-width="0.17" transform="translate(359.1 206.09) scale(1 1.17)">40</text>
<line x1="359.7" y1="198.25" x2="361.7" y2="198.25" stroke="#1e1e1e" stroke-width="1"/>
<text font-size="5.5" text-anchor="end" stroke="#1a1a1a" stroke-width="0.17" transform="translate(359.1 199.84) scale(1 1.17)">50</text>
<line x1="359.7" y1="192" x2="361.7" y2="192" stroke="#1e1e1e" stroke-width="1"/>
<text font-size="5.5" text-anchor="end" stroke="#1a1a1a" stroke-width="0.17" transform="translate(359.1 193.59) scale(1 1.17)">60</text>
<line x1="359.7" y1="185.75" x2="361.7" y2="185.75" stroke="#1e1e1e" stroke-width="1"/>
<text font-size="5.5" text-anchor="end" stroke="#1a1a1a" stroke-width="0.17" transform="translate(359.1 187.34) scale(1 1.17)">70</text>
<line x1="359.7" y1="179.5" x2="361.7" y2="179.5" stroke="#1e1e1e" stroke-width="1"/>
<text font-size="5.5" text-anchor="end" stroke="#1a1a1a" stroke-width="0.17" transform="translate(359.1 181.09) scale(1 1.17)">80</text>
<line x1="359.7" y1="173.25" x2="361.7" y2="173.25" stroke="#1e1e1e" stroke-width="1"/>
<text font-size="5.5" text-anchor="end" stroke="#1a1a1a" stroke-width="0.17" transform="translate(359.1 174.84) scale(1 1.17)">90</text>
<line x1="361.7" y1="173.25" x2="363" y2="173.25" stroke="#1e1e1e" stroke-width="0.9"/>
<line x1="362.4" y1="232.5" x2="430" y2="232.5" stroke="#1e1e1e" stroke-width="0.9"/>
<text font-size="5.5" text-anchor="middle" stroke="#1a1a1a" stroke-width="0.17" transform="translate(396.6 165.6) scale(1 1.17)">PD-L2</text>
<text font-size="5.6" text-anchor="middle" stroke="#1a1a1a" stroke-width="0.17" transform="translate(370.7 238.4) scale(1 1.17)">0</text>
<text font-size="5.6" text-anchor="middle" stroke="#1a1a1a" stroke-width="0.17" transform="translate(388.6 238.4) scale(1 1.17)">0.05</text>
<text font-size="5.6" text-anchor="middle" stroke="#1a1a1a" stroke-width="0.17" transform="translate(403.7 238.4) scale(1 1.17)">0.5</text>
<text font-size="5.6" text-anchor="middle" stroke="#1a1a1a" stroke-width="0.17" transform="translate(420.5 238.4) scale(1 1.17)">5</text>
<text font-size="5.98" text-anchor="middle" stroke="#1a1a1a" stroke-width="0.17" transform="translate(349.9 200.2) scale(1 1.17) rotate(-90)">% positive cells</text>
<text font-size="5.9" stroke="#1a1a1a" stroke-width="0.17" transform="translate(361 242.7) scale(1 1.17)">IFN-&#947;</text>
<text font-size="5.9" stroke="#1a1a1a" stroke-width="0.17" transform="translate(376.5 245.9) scale(1 1.17)">concentration (ng/ml)</text>
<line x1="366" y1="229.2" x2="375.2" y2="229.2" stroke="#1a1a1a" stroke-width="0.9"/>
<polygon points="368.2,228.16 367.2,229.9 369.2,229.9" fill="#1a1a1a"/>
<polygon points="371.4,228.16 370.4,229.9 372.4,229.9" fill="#1a1a1a"/>
<polygon points="374.5,228.16 373.5,229.9 375.5,229.9" fill="#1a1a1a"/>
<line x1="383" y1="232.3" x2="393" y2="232.3" stroke="#1a1a1a" stroke-width="1"/>
<polygon points="385.5,231.06 384.6,232.63 386.4,232.63" fill="#1a1a1a"/>
<polygon points="388,231.06 387.1,232.63 388.9,232.63" fill="#1a1a1a"/>
<polygon points="390.5,231.06 389.6,232.63 391.4,232.63" fill="#1a1a1a"/>
<line x1="398.5" y1="232.3" x2="408.5" y2="232.3" stroke="#1a1a1a" stroke-width="1"/>
<polygon points="401,231.06 400.1,232.63 401.9,232.63" fill="#1a1a1a"/>
<polygon points="403.5,231.06 402.6,232.63 404.4,232.63" fill="#1a1a1a"/>
<polygon points="406,231.06 405.1,232.63 406.9,232.63" fill="#1a1a1a"/>
<line x1="415" y1="232.3" x2="425" y2="232.3" stroke="#1a1a1a" stroke-width="1"/>
<polygon points="417.5,231.06 416.6,232.63 418.4,232.63" fill="#1a1a1a"/>
<polygon points="420,231.06 419.1,232.63 420.9,232.63" fill="#1a1a1a"/>
<polygon points="422.5,231.06 421.6,232.63 423.4,232.63" fill="#1a1a1a"/>
<text x="445.3" y="145.5" font-size="13.5" font-weight="bold" fill="#000">G</text>
<line x1="465.6" y1="167.48" x2="465.6" y2="228.5" stroke="#1e1e1e" stroke-width="1"/>
<line x1="463.6" y1="228.5" x2="465.6" y2="228.5" stroke="#1e1e1e" stroke-width="1"/>
<text font-size="5.6" text-anchor="end" stroke="#1a1a1a" stroke-width="0.17" transform="translate(463 230.12) scale(1 1.17)">0</text>
<line x1="463.6" y1="221.72" x2="465.6" y2="221.72" stroke="#1e1e1e" stroke-width="1"/>
<text font-size="5.6" text-anchor="end" stroke="#1a1a1a" stroke-width="0.17" transform="translate(463 223.34) scale(1 1.17)">10</text>
<line x1="463.6" y1="214.94" x2="465.6" y2="214.94" stroke="#1e1e1e" stroke-width="1"/>
<text font-size="5.6" text-anchor="end" stroke="#1a1a1a" stroke-width="0.17" transform="translate(463 216.56) scale(1 1.17)">20</text>
<line x1="463.6" y1="208.16" x2="465.6" y2="208.16" stroke="#1e1e1e" stroke-width="1"/>
<text font-size="5.6" text-anchor="end" stroke="#1a1a1a" stroke-width="0.17" transform="translate(463 209.78) scale(1 1.17)">30</text>
<line x1="463.6" y1="201.38" x2="465.6" y2="201.38" stroke="#1e1e1e" stroke-width="1"/>
<text font-size="5.6" text-anchor="end" stroke="#1a1a1a" stroke-width="0.17" transform="translate(463 203) scale(1 1.17)">40</text>
<line x1="463.6" y1="194.6" x2="465.6" y2="194.6" stroke="#1e1e1e" stroke-width="1"/>
<text font-size="5.6" text-anchor="end" stroke="#1a1a1a" stroke-width="0.17" transform="translate(463 196.22) scale(1 1.17)">50</text>
<line x1="463.6" y1="187.82" x2="465.6" y2="187.82" stroke="#1e1e1e" stroke-width="1"/>
<text font-size="5.6" text-anchor="end" stroke="#1a1a1a" stroke-width="0.17" transform="translate(463 189.44) scale(1 1.17)">60</text>
<line x1="463.6" y1="181.04" x2="465.6" y2="181.04" stroke="#1e1e1e" stroke-width="1"/>
<text font-size="5.6" text-anchor="end" stroke="#1a1a1a" stroke-width="0.17" transform="translate(463 182.66) scale(1 1.17)">70</text>
<line x1="463.6" y1="174.26" x2="465.6" y2="174.26" stroke="#1e1e1e" stroke-width="1"/>
<text font-size="5.6" text-anchor="end" stroke="#1a1a1a" stroke-width="0.17" transform="translate(463 175.88) scale(1 1.17)">80</text>
<line x1="463.6" y1="167.48" x2="465.6" y2="167.48" stroke="#1e1e1e" stroke-width="1"/>
<text font-size="5.6" text-anchor="end" stroke="#1a1a1a" stroke-width="0.17" transform="translate(463 169.1) scale(1 1.17)">90</text>
<line x1="465.6" y1="167.48" x2="466.9" y2="167.48" stroke="#1e1e1e" stroke-width="0.9"/>
<line x1="465.6" y1="228.5" x2="510.8" y2="228.5" stroke="#555" stroke-width="1"/>
<text font-size="6.07" text-anchor="middle" stroke="#1a1a1a" stroke-width="0.17" transform="translate(453.3 197) scale(1 1.17) rotate(-90)">% PD-L1 expression</text>
<line x1="468.5" y1="227.7" x2="484.6" y2="227.7" stroke="#888" stroke-width="1.5"/>
<line x1="476.6" y1="225.4" x2="476.6" y2="229" stroke="#1a1a1a" stroke-width="1"/>
<line x1="475.8" y1="225.4" x2="477.4" y2="225.4" stroke="#1a1a1a" stroke-width="1"/>
<line x1="475.8" y1="229" x2="477.4" y2="229" stroke="#1a1a1a" stroke-width="1"/>
<circle cx="476.6" cy="227.7" r="1.3" fill="#1a1a1a"/>
<polygon points="499.4,156.25 500.15,157.77 501.83,158.01 500.61,159.19 500.9,160.86 499.4,160.08 497.9,160.86 498.19,159.19 496.97,158.01 498.65,157.77" fill="#1a1a1a"/>
<line x1="491.2" y1="171.2" x2="506.8" y2="171.2" stroke="#222" stroke-width="1.25"/>
<ellipse cx="499.2" cy="171.3" rx="0.9" ry="2.5" fill="#111"/>
<text font-size="5.5" text-anchor="middle" stroke="#1a1a1a" stroke-width="0.17" transform="translate(474.6 235.8) scale(1 1.17)">Baseline</text>
<text font-size="5.5" text-anchor="middle" stroke="#1a1a1a" stroke-width="0.17" transform="translate(507.8 235.8) scale(1 1.17)">NOR MSC</text>
<text font-size="5.5" text-anchor="middle" stroke="#1a1a1a" stroke-width="0.17" transform="translate(473 243.5) scale(1 1.17)">NOR MSC post</text>
<text font-size="5.5" text-anchor="middle" stroke="#1a1a1a" stroke-width="0.17" transform="translate(506.2 243.5) scale(1 1.17)">co-culture</text>
<text x="193.3" y="270.1" font-size="13.5" font-weight="bold" fill="#000">H</text>
<line x1="224.5" y1="293.75" x2="224.5" y2="357.5" stroke="#1e1e1e" stroke-width="1"/>
<line x1="222.5" y1="357.5" x2="224.5" y2="357.5" stroke="#1e1e1e" stroke-width="1"/>
<text font-size="5.3" text-anchor="end" stroke="#1a1a1a" stroke-width="0.17" transform="translate(221.9 359.04) scale(1 1.17)">0</text>
<line x1="222.5" y1="336.25" x2="224.5" y2="336.25" stroke="#1e1e1e" stroke-width="1"/>
<text font-size="5.3" text-anchor="end" stroke="#1a1a1a" stroke-width="0.17" transform="translate(221.9 337.79) scale(1 1.17)">2500</text>
<line x1="222.5" y1="315" x2="224.5" y2="315" stroke="#1e1e1e" stroke-width="1"/>
<text font-size="5.3" text-anchor="end" stroke="#1a1a1a" stroke-width="0.17" transform="translate(221.9 316.54) scale(1 1.17)">5000</text>
<line x1="222.5" y1="293.75" x2="224.5" y2="293.75" stroke="#1e1e1e" stroke-width="1"/>
<text font-size="5.3" text-anchor="end" stroke="#1a1a1a" stroke-width="0.17" transform="translate(221.9 295.29) scale(1 1.17)">7500</text>
<line x1="224.5" y1="293.75" x2="225.9" y2="293.75" stroke="#1e1e1e" stroke-width="0.9"/>
<line x1="224.5" y1="358.1" x2="272.9" y2="358.1" stroke="#1e1e1e" stroke-width="0.9"/>
<text font-size="5.9" text-anchor="middle" stroke="#1a1a1a" stroke-width="0.17" transform="translate(205.4 323.6) scale(1 1.17) rotate(-90)"><tspan font-size="4.2" dy="-2">3</tspan><tspan dy="2">H-thymidine incorporation</tspan></text>
<polygon points="232.9,300.31 231.45,297.79 234.35,297.79" fill="#1a1a1a"/>
<polygon points="232.9,325.71 231.45,323.19 234.35,323.19" fill="#1a1a1a"/>
<line x1="232.9" y1="306.6" x2="232.9" y2="314.4" stroke="#1a1a1a" stroke-width="1"/>
<line x1="231.2" y1="306.6" x2="234.6" y2="306.6" stroke="#1a1a1a" stroke-width="1"/>
<line x1="231.2" y1="314.4" x2="234.6" y2="314.4" stroke="#1a1a1a" stroke-width="1"/>
<line x1="227.8" y1="310.6" x2="237.6" y2="310.6" stroke="#1a1a1a" stroke-width="1.12"/>
<polygon points="232.9,311.76 231.5,309.33 234.3,309.33" fill="#1a1a1a"/>
<polygon points="249,306.45 249.75,307.97 251.43,308.21 250.21,309.39 250.5,311.06 249,310.27 247.5,311.06 247.79,309.39 246.57,308.21 248.25,307.97" fill="#1a1a1a"/>
<circle cx="249" cy="320" r="1.47" fill="#5a5a5a"/>
<line x1="249" y1="324.8" x2="249" y2="332.6" stroke="#1a1a1a" stroke-width="1"/>
<line x1="247.7" y1="324.8" x2="250.3" y2="324.8" stroke="#1a1a1a" stroke-width="1"/>
<line x1="247.7" y1="332.6" x2="250.3" y2="332.6" stroke="#1a1a1a" stroke-width="1"/>
<line x1="244" y1="329.1" x2="253.6" y2="329.1" stroke="#1a1a1a" stroke-width="1.12"/>
<polygon points="249,333.86 247.6,331.43 250.4,331.43" fill="#1a1a1a"/>
<polygon points="249,325.25 247.8,327.34 250.2,327.34" fill="#1a1a1a"/>
<circle cx="249" cy="340" r="1.47" fill="#5a5a5a"/>
<line x1="260" y1="307.2" x2="269" y2="307.2" stroke="#1a1a1a" stroke-width="1.38"/>
<ellipse cx="264.8" cy="307.3" rx="1.7" ry="2.3" fill="#111"/>
<polygon points="279.2,292.46 277.9,290.2 280.5,290.2" fill="#1a1a1a"/>
<circle cx="279.2" cy="297.9" r="1.42" fill="#5a5a5a"/>
<circle cx="279.2" cy="305" r="1.42" fill="#1a1a1a"/>
<text font-size="5.6" stroke="#1a1a1a" stroke-width="0.17" transform="translate(285.6 293.4) scale(1 1.17)">Control</text>
<text font-size="5.6" stroke="#1a1a1a" stroke-width="0.17" transform="translate(285.6 300.3) scale(1 1.17)">+NT siRNA-MSC</text>
<text font-size="5.6" stroke="#1a1a1a" stroke-width="0.17" transform="translate(285.6 307.3) scale(1 1.17)">+PD-L1 siRNA-MSC</text>
<text x="348.2" y="270.3" font-size="13.5" font-weight="bold" fill="#000">I</text>
<line x1="380.3" y1="293.78" x2="380.3" y2="357.5" stroke="#1e1e1e" stroke-width="1"/>
<line x1="378.3" y1="357.5" x2="380.3" y2="357.5" stroke="#1e1e1e" stroke-width="1"/>
<text font-size="5.6" text-anchor="end" stroke="#1a1a1a" stroke-width="0.17" transform="translate(377.6 359.12) scale(1 1.17)">0.000</text>
<line x1="378.3" y1="346.88" x2="380.3" y2="346.88" stroke="#1e1e1e" stroke-width="1"/>
<text font-size="5.6" text-anchor="end" stroke="#1a1a1a" stroke-width="0.17" transform="translate(377.6 348.5) scale(1 1.17)">0.001</text>
<line x1="378.3" y1="336.26" x2="380.3" y2="336.26" stroke="#1e1e1e" stroke-width="1"/>
<text font-size="5.6" text-anchor="end" stroke="#1a1a1a" stroke-width="0.17" transform="translate(377.6 337.88) scale(1 1.17)">0.002</text>
<line x1="378.3" y1="325.64" x2="380.3" y2="325.64" stroke="#1e1e1e" stroke-width="1"/>
<text font-size="5.6" text-anchor="end" stroke="#1a1a1a" stroke-width="0.17" transform="translate(377.6 327.26) scale(1 1.17)">0.003</text>
<line x1="378.3" y1="315.02" x2="380.3" y2="315.02" stroke="#1e1e1e" stroke-width="1"/>
<text font-size="5.6" text-anchor="end" stroke="#1a1a1a" stroke-width="0.17" transform="translate(377.6 316.64) scale(1 1.17)">0.004</text>
<line x1="378.3" y1="304.4" x2="380.3" y2="304.4" stroke="#1e1e1e" stroke-width="1"/>
<text font-size="5.6" text-anchor="end" stroke="#1a1a1a" stroke-width="0.17" transform="translate(377.6 306.02) scale(1 1.17)">0.005</text>
<line x1="378.3" y1="293.78" x2="380.3" y2="293.78" stroke="#1e1e1e" stroke-width="1"/>
<text font-size="5.6" text-anchor="end" stroke="#1a1a1a" stroke-width="0.17" transform="translate(377.6 295.4) scale(1 1.17)">0.006</text>
<line x1="380.3" y1="293.78" x2="381.7" y2="293.78" stroke="#1e1e1e" stroke-width="0.9"/>
<line x1="380.3" y1="357.5" x2="421.9" y2="357.5" stroke="#555" stroke-width="1"/>
<text font-size="6.07" text-anchor="middle" stroke="#1a1a1a" stroke-width="0.17" transform="translate(358.5 319.7) scale(1 1.17) rotate(-90)">PD-L1 copies/copies GAPDH</text>
<circle cx="391.3" cy="300.6" r="1.3" fill="#1a1a1a"/>
<line x1="391.3" y1="304.6" x2="391.3" y2="316.5" stroke="#1a1a1a" stroke-width="1"/>
<line x1="389.2" y1="304.6" x2="393.4" y2="304.6" stroke="#1a1a1a" stroke-width="1"/>
<line x1="389.2" y1="316.5" x2="393.4" y2="316.5" stroke="#1a1a1a" stroke-width="1"/>
<line x1="384.4" y1="310.4" x2="398.1" y2="310.4" stroke="#1a1a1a" stroke-width="1.12"/>
<polygon points="391.3,314.45 390.2,316.37 392.4,316.37" fill="#1a1a1a"/>
<circle cx="391.3" cy="325.6" r="1.3" fill="#5a5a5a"/>
<polygon points="411.9,320.35 412.65,321.87 414.33,322.11 413.11,323.29 413.4,324.96 411.9,324.17 410.4,324.96 410.69,323.29 409.47,322.11 411.15,321.87" fill="#1a1a1a"/>
<circle cx="411.9" cy="334.4" r="1.3" fill="#1a1a1a"/>
<line x1="411.9" y1="337.6" x2="411.9" y2="343.7" stroke="#1a1a1a" stroke-width="1"/>
<line x1="409.9" y1="337.6" x2="413.9" y2="337.6" stroke="#1a1a1a" stroke-width="1"/>
<line x1="409.9" y1="343.7" x2="413.9" y2="343.7" stroke="#1a1a1a" stroke-width="1"/>
<line x1="405" y1="340.3" x2="418.5" y2="340.3" stroke="#1a1a1a" stroke-width="1.12"/>
<circle cx="411.9" cy="337.9" r="1.18" fill="#1a1a1a"/>
<circle cx="411.9" cy="342.3" r="1.18" fill="#1a1a1a"/>
<circle cx="411.9" cy="349" r="1.3" fill="#1a1a1a"/>
<circle cx="422.4" cy="299.2" r="1.3" fill="#5a5a5a"/>
<circle cx="422.4" cy="305.6" r="1.36" fill="#1a1a1a"/>
<text font-size="5.7" stroke="#1a1a1a" stroke-width="0.17" transform="translate(428.5 300.6) scale(1 1.17)">NT siRNA-MSC</text>
<text font-size="5.7" stroke="#1a1a1a" stroke-width="0.17" transform="translate(428.5 307) scale(1 1.17)">PD-L1 siRNA-MSC</text></g>
</svg>
</body></html>
